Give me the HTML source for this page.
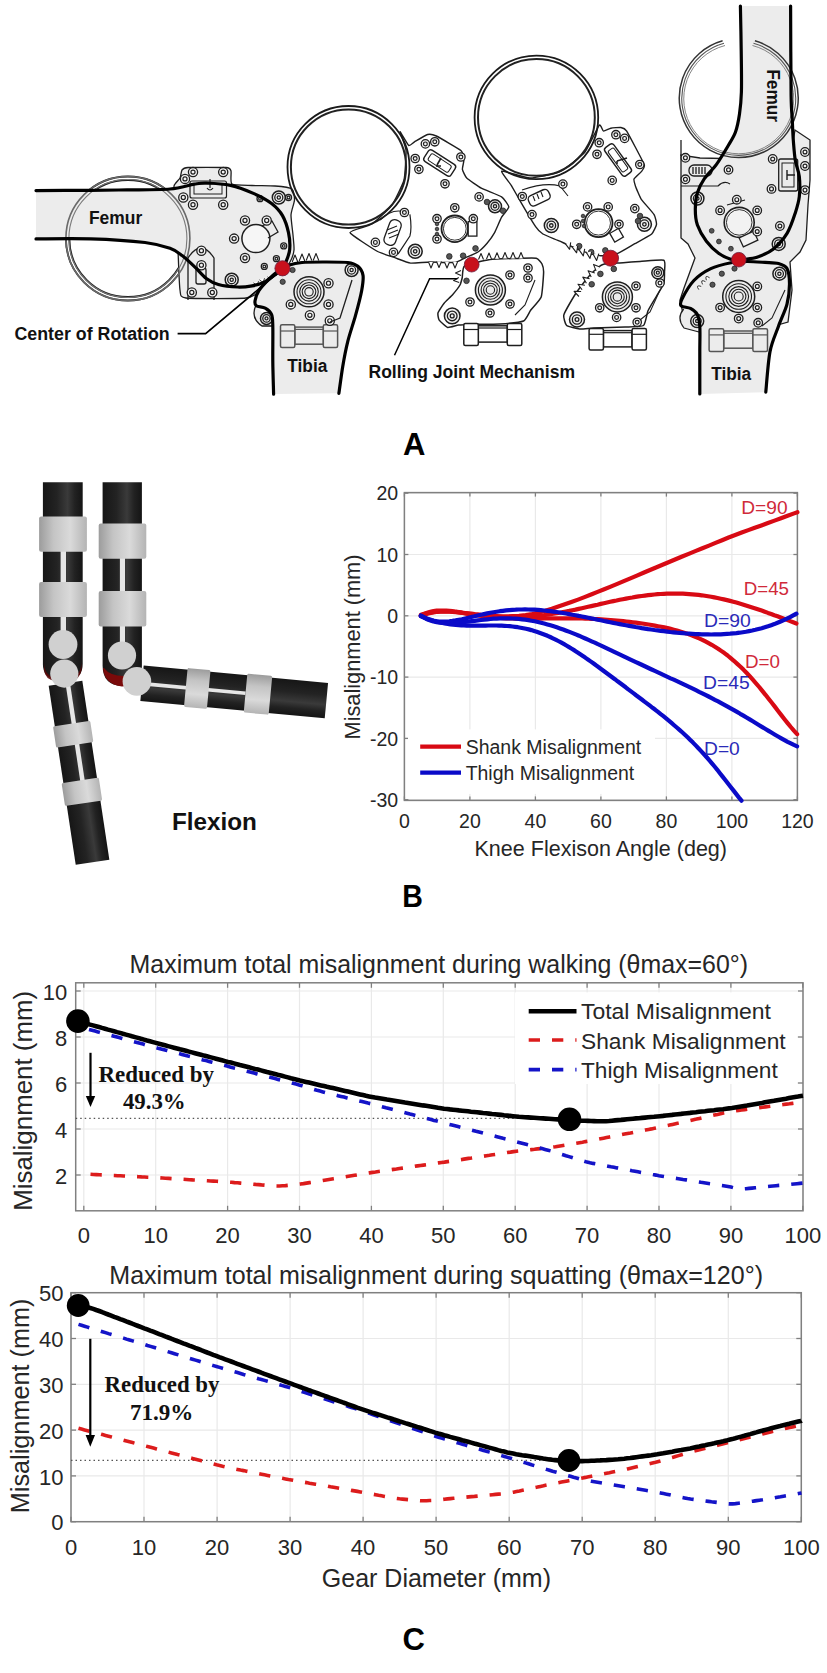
<!DOCTYPE html>
<html><head><meta charset="utf-8"><style>
html,body{margin:0;padding:0;background:#fff;overflow:hidden;}
svg{display:block;}
</style></head><body>
<svg width="827" height="1673" viewBox="0 0 827 1673">
<defs>
<linearGradient id="cyl" x1="0" x2="1" y1="0" y2="0">
<stop offset="0" stop-color="#161616"/><stop offset="0.35" stop-color="#232323"/><stop offset="0.62" stop-color="#3a3a3a"/><stop offset="0.8" stop-color="#222"/><stop offset="1" stop-color="#141414"/></linearGradient>
<linearGradient id="cylv" x1="0" x2="0" y1="0" y2="1">
<stop offset="0" stop-color="#161616"/><stop offset="0.35" stop-color="#232323"/><stop offset="0.62" stop-color="#3a3a3a"/><stop offset="0.8" stop-color="#222"/><stop offset="1" stop-color="#141414"/></linearGradient>
<linearGradient id="band" x1="0" x2="1" y1="0" y2="0">
<stop offset="0" stop-color="#9c9c9c"/><stop offset="0.3" stop-color="#c4c4c4"/><stop offset="0.65" stop-color="#dadada"/><stop offset="1" stop-color="#b4b4b4"/></linearGradient>
<linearGradient id="bandv" x1="0" x2="0" y1="0" y2="1">
<stop offset="0" stop-color="#9c9c9c"/><stop offset="0.3" stop-color="#c4c4c4"/><stop offset="0.65" stop-color="#dadada"/><stop offset="1" stop-color="#b4b4b4"/></linearGradient>
<radialGradient id="red" cx="0.5" cy="0.5" r="0.5"><stop offset="0" stop-color="#8a0c0c"/><stop offset="1" stop-color="#4a0606"/></radialGradient>
</defs>
<rect width="827" height="1673" fill="#fff"/>
<line x1="83.8" y1="982.8" x2="83.8" y2="1210.8" stroke="#e9e9e9" stroke-width="1.2"/>
<line x1="155.7" y1="982.8" x2="155.7" y2="1210.8" stroke="#e9e9e9" stroke-width="1.2"/>
<line x1="227.6" y1="982.8" x2="227.6" y2="1210.8" stroke="#e9e9e9" stroke-width="1.2"/>
<line x1="299.5" y1="982.8" x2="299.5" y2="1210.8" stroke="#e9e9e9" stroke-width="1.2"/>
<line x1="371.4" y1="982.8" x2="371.4" y2="1210.8" stroke="#e9e9e9" stroke-width="1.2"/>
<line x1="443.3" y1="982.8" x2="443.3" y2="1210.8" stroke="#e9e9e9" stroke-width="1.2"/>
<line x1="515.2" y1="982.8" x2="515.2" y2="1210.8" stroke="#e9e9e9" stroke-width="1.2"/>
<line x1="587.1" y1="982.8" x2="587.1" y2="1210.8" stroke="#e9e9e9" stroke-width="1.2"/>
<line x1="659.0" y1="982.8" x2="659.0" y2="1210.8" stroke="#e9e9e9" stroke-width="1.2"/>
<line x1="730.9" y1="982.8" x2="730.9" y2="1210.8" stroke="#e9e9e9" stroke-width="1.2"/>
<line x1="802.8" y1="982.8" x2="802.8" y2="1210.8" stroke="#e9e9e9" stroke-width="1.2"/>
<line x1="75.7" y1="1175" x2="803" y2="1175" stroke="#e9e9e9" stroke-width="1.2"/>
<line x1="75.7" y1="1129" x2="803" y2="1129" stroke="#e9e9e9" stroke-width="1.2"/>
<line x1="75.7" y1="1083" x2="803" y2="1083" stroke="#e9e9e9" stroke-width="1.2"/>
<line x1="75.7" y1="1037" x2="803" y2="1037" stroke="#e9e9e9" stroke-width="1.2"/>
<line x1="75.7" y1="991" x2="803" y2="991" stroke="#e9e9e9" stroke-width="1.2"/>
<rect x="75.7" y="982.8" width="727.3" height="228.0" fill="none" stroke="#808080" stroke-width="1.5"/>
<line x1="83.8" y1="1210.8" x2="83.8" y2="1205.8" stroke="#808080" stroke-width="1.3"/>
<line x1="83.8" y1="982.8" x2="83.8" y2="987.8" stroke="#808080" stroke-width="1.3"/>
<line x1="155.7" y1="1210.8" x2="155.7" y2="1205.8" stroke="#808080" stroke-width="1.3"/>
<line x1="155.7" y1="982.8" x2="155.7" y2="987.8" stroke="#808080" stroke-width="1.3"/>
<line x1="227.6" y1="1210.8" x2="227.6" y2="1205.8" stroke="#808080" stroke-width="1.3"/>
<line x1="227.6" y1="982.8" x2="227.6" y2="987.8" stroke="#808080" stroke-width="1.3"/>
<line x1="299.5" y1="1210.8" x2="299.5" y2="1205.8" stroke="#808080" stroke-width="1.3"/>
<line x1="299.5" y1="982.8" x2="299.5" y2="987.8" stroke="#808080" stroke-width="1.3"/>
<line x1="371.4" y1="1210.8" x2="371.4" y2="1205.8" stroke="#808080" stroke-width="1.3"/>
<line x1="371.4" y1="982.8" x2="371.4" y2="987.8" stroke="#808080" stroke-width="1.3"/>
<line x1="443.3" y1="1210.8" x2="443.3" y2="1205.8" stroke="#808080" stroke-width="1.3"/>
<line x1="443.3" y1="982.8" x2="443.3" y2="987.8" stroke="#808080" stroke-width="1.3"/>
<line x1="515.2" y1="1210.8" x2="515.2" y2="1205.8" stroke="#808080" stroke-width="1.3"/>
<line x1="515.2" y1="982.8" x2="515.2" y2="987.8" stroke="#808080" stroke-width="1.3"/>
<line x1="587.1" y1="1210.8" x2="587.1" y2="1205.8" stroke="#808080" stroke-width="1.3"/>
<line x1="587.1" y1="982.8" x2="587.1" y2="987.8" stroke="#808080" stroke-width="1.3"/>
<line x1="659.0" y1="1210.8" x2="659.0" y2="1205.8" stroke="#808080" stroke-width="1.3"/>
<line x1="659.0" y1="982.8" x2="659.0" y2="987.8" stroke="#808080" stroke-width="1.3"/>
<line x1="730.9" y1="1210.8" x2="730.9" y2="1205.8" stroke="#808080" stroke-width="1.3"/>
<line x1="730.9" y1="982.8" x2="730.9" y2="987.8" stroke="#808080" stroke-width="1.3"/>
<line x1="802.8" y1="1210.8" x2="802.8" y2="1205.8" stroke="#808080" stroke-width="1.3"/>
<line x1="802.8" y1="982.8" x2="802.8" y2="987.8" stroke="#808080" stroke-width="1.3"/>
<line x1="75.7" y1="1175" x2="80.7" y2="1175" stroke="#808080" stroke-width="1.3"/>
<line x1="803" y1="1175" x2="798" y2="1175" stroke="#808080" stroke-width="1.3"/>
<line x1="75.7" y1="1129" x2="80.7" y2="1129" stroke="#808080" stroke-width="1.3"/>
<line x1="803" y1="1129" x2="798" y2="1129" stroke="#808080" stroke-width="1.3"/>
<line x1="75.7" y1="1083" x2="80.7" y2="1083" stroke="#808080" stroke-width="1.3"/>
<line x1="803" y1="1083" x2="798" y2="1083" stroke="#808080" stroke-width="1.3"/>
<line x1="75.7" y1="1037" x2="80.7" y2="1037" stroke="#808080" stroke-width="1.3"/>
<line x1="803" y1="1037" x2="798" y2="1037" stroke="#808080" stroke-width="1.3"/>
<line x1="75.7" y1="991" x2="80.7" y2="991" stroke="#808080" stroke-width="1.3"/>
<line x1="803" y1="991" x2="798" y2="991" stroke="#808080" stroke-width="1.3"/>
<text x="83.8" y="1242.9" font-size="22" text-anchor="middle" fill="#262626" font-weight="normal" font-family="'Liberation Sans', sans-serif" >0</text>
<text x="155.7" y="1242.9" font-size="22" text-anchor="middle" fill="#262626" font-weight="normal" font-family="'Liberation Sans', sans-serif" >10</text>
<text x="227.6" y="1242.9" font-size="22" text-anchor="middle" fill="#262626" font-weight="normal" font-family="'Liberation Sans', sans-serif" >20</text>
<text x="299.5" y="1242.9" font-size="22" text-anchor="middle" fill="#262626" font-weight="normal" font-family="'Liberation Sans', sans-serif" >30</text>
<text x="371.4" y="1242.9" font-size="22" text-anchor="middle" fill="#262626" font-weight="normal" font-family="'Liberation Sans', sans-serif" >40</text>
<text x="443.3" y="1242.9" font-size="22" text-anchor="middle" fill="#262626" font-weight="normal" font-family="'Liberation Sans', sans-serif" >50</text>
<text x="515.2" y="1242.9" font-size="22" text-anchor="middle" fill="#262626" font-weight="normal" font-family="'Liberation Sans', sans-serif" >60</text>
<text x="587.1" y="1242.9" font-size="22" text-anchor="middle" fill="#262626" font-weight="normal" font-family="'Liberation Sans', sans-serif" >70</text>
<text x="659.0" y="1242.9" font-size="22" text-anchor="middle" fill="#262626" font-weight="normal" font-family="'Liberation Sans', sans-serif" >80</text>
<text x="730.9" y="1242.9" font-size="22" text-anchor="middle" fill="#262626" font-weight="normal" font-family="'Liberation Sans', sans-serif" >90</text>
<text x="802.8" y="1242.9" font-size="22" text-anchor="middle" fill="#262626" font-weight="normal" font-family="'Liberation Sans', sans-serif" >100</text>
<text x="67.3" y="1183.8" font-size="22" text-anchor="end" fill="#262626" font-weight="normal" font-family="'Liberation Sans', sans-serif" >2</text>
<text x="67.3" y="1137.8" font-size="22" text-anchor="end" fill="#262626" font-weight="normal" font-family="'Liberation Sans', sans-serif" >4</text>
<text x="67.3" y="1091.8" font-size="22" text-anchor="end" fill="#262626" font-weight="normal" font-family="'Liberation Sans', sans-serif" >6</text>
<text x="67.3" y="1045.8" font-size="22" text-anchor="end" fill="#262626" font-weight="normal" font-family="'Liberation Sans', sans-serif" >8</text>
<text x="67.3" y="999.8" font-size="22" text-anchor="end" fill="#262626" font-weight="normal" font-family="'Liberation Sans', sans-serif" >10</text>
<text x="0" y="0" font-size="25.5" text-anchor="middle" fill="#262626" font-weight="normal" font-family="'Liberation Sans', sans-serif" textLength="220" lengthAdjust="spacingAndGlyphs" transform="translate(32,1100.8) rotate(-90)">Misalignment (mm)</text>
<text x="129.6" y="973.3" font-size="25" text-anchor="start" fill="#262626" font-weight="normal" font-family="'Liberation Sans', sans-serif" textLength="618.4" lengthAdjust="spacingAndGlyphs" >Maximum total misalignment during walking (θmax=60°)</text>
<line x1="75.7" y1="1118.3" x2="570" y2="1118.3" stroke="#555" stroke-width="1.2" stroke-dasharray="1.5,3"/>
<path d="M90.5,1174.3 L93.5,1174.5 L96.5,1174.6 L99.5,1174.8 L102.5,1174.9 L105.5,1175.1 L108.5,1175.2 L111.5,1175.4 L114.5,1175.5 L117.5,1175.7 L120.5,1175.8 L123.5,1176.0 L126.5,1176.1 L129.5,1176.3 L132.5,1176.4 L135.5,1176.6 L138.5,1176.7 L141.5,1176.9 L144.5,1177.0 L147.5,1177.2 L150.5,1177.3 L153.5,1177.5 L156.5,1177.7 L159.5,1177.8 L162.5,1178.0 L165.5,1178.2 L168.5,1178.4 L171.5,1178.6 L174.5,1178.8 L177.5,1178.9 L180.5,1179.1 L183.5,1179.3 L186.5,1179.5 L189.5,1179.7 L192.5,1179.9 L195.5,1180.0 L198.5,1180.2 L201.5,1180.4 L204.5,1180.6 L207.5,1180.8 L210.5,1181.0 L213.5,1181.1 L216.5,1181.3 L219.5,1181.5 L222.5,1181.7 L225.5,1181.9 L228.5,1182.1 L231.5,1182.3 L234.5,1182.6 L237.5,1182.8 L240.5,1183.1 L243.5,1183.4 L246.5,1183.6 L249.5,1183.9 L252.5,1184.1 L255.5,1184.4 L258.5,1184.6 L261.5,1184.9 L264.5,1185.1 L267.5,1185.4 L270.5,1185.7 L273.5,1185.9 L276.5,1186.0 L279.5,1186.0 L282.5,1185.8 L285.5,1185.6 L288.5,1185.3 L291.5,1185.0 L294.5,1184.7 L297.5,1184.4 L300.5,1184.0 L303.5,1183.6 L306.5,1183.1 L309.5,1182.6 L312.5,1182.2 L315.5,1181.7 L318.5,1181.2 L321.5,1180.7 L324.5,1180.2 L327.5,1179.7 L330.5,1179.2 L333.5,1178.7 L336.5,1178.2 L339.5,1177.8 L342.5,1177.3 L345.5,1176.8 L348.5,1176.3 L351.5,1175.8 L354.5,1175.3 L357.5,1174.8 L360.5,1174.3 L363.5,1173.8 L366.5,1173.4 L369.5,1172.9 L372.5,1172.4 L375.5,1172.0 L378.5,1171.5 L381.5,1171.1 L384.5,1170.7 L387.5,1170.2 L390.5,1169.8 L393.5,1169.4 L396.5,1169.0 L399.5,1168.5 L402.5,1168.1 L405.5,1167.7 L408.5,1167.2 L411.5,1166.8 L414.5,1166.4 L417.5,1165.9 L420.5,1165.5 L423.5,1165.1 L426.5,1164.7 L429.5,1164.2 L432.5,1163.8 L435.5,1163.4 L438.5,1162.9 L441.5,1162.5 L444.5,1162.1 L447.5,1161.6 L450.5,1161.2 L453.5,1160.7 L456.5,1160.3 L459.5,1159.8 L462.5,1159.4 L465.5,1158.9 L468.5,1158.4 L471.5,1158.0 L474.5,1157.5 L477.5,1157.1 L480.5,1156.6 L483.5,1156.2 L486.5,1155.7 L489.5,1155.3 L492.5,1154.8 L495.5,1154.4 L498.5,1153.9 L501.5,1153.4 L504.5,1153.0 L507.5,1152.5 L510.5,1152.1 L513.5,1151.6 L516.5,1151.2 L519.5,1150.9 L522.5,1150.5 L525.5,1150.2 L528.5,1149.9 L531.5,1149.6 L534.5,1149.3 L537.5,1148.9 L540.5,1148.6 L543.5,1148.3 L546.5,1147.9 L549.5,1147.6 L552.5,1147.1 L555.5,1146.7 L558.5,1146.2 L561.5,1145.7 L564.5,1145.2 L567.5,1144.7 L570.5,1144.2 L573.5,1143.7 L576.5,1143.2 L579.5,1142.7 L582.5,1142.2 L585.5,1141.6 L588.5,1141.1 L591.5,1140.5 L594.5,1140.0 L597.5,1139.4 L600.5,1138.8 L603.5,1138.2 L606.5,1137.6 L609.5,1137.0 L612.5,1136.5 L615.5,1135.9 L618.5,1135.3 L621.5,1134.7 L624.5,1134.1 L627.5,1133.5 L630.5,1133.0 L633.5,1132.4 L636.5,1131.8 L639.5,1131.2 L642.5,1130.6 L645.5,1130.0 L648.5,1129.4 L651.5,1128.9 L654.5,1128.3 L657.5,1127.7 L660.5,1127.1 L663.5,1126.4 L666.5,1125.7 L669.5,1125.1 L672.5,1124.4 L675.5,1123.7 L678.5,1123.1 L681.5,1122.4 L684.5,1121.7 L687.5,1121.1 L690.5,1120.4 L693.5,1119.7 L696.5,1119.1 L699.5,1118.4 L702.5,1117.7 L705.5,1117.0 L708.5,1116.4 L711.5,1115.7 L714.5,1115.0 L717.5,1114.4 L720.5,1113.7 L723.5,1113.0 L726.5,1112.4 L729.5,1111.8 L732.5,1111.3 L735.5,1110.8 L738.5,1110.4 L741.5,1110.0 L744.5,1109.6 L747.5,1109.2 L750.5,1108.8 L753.5,1108.4 L756.5,1108.1 L759.5,1107.7 L762.5,1107.3 L765.5,1106.9 L768.5,1106.5 L771.5,1106.1 L774.5,1105.7 L777.5,1105.3 L780.5,1104.9 L783.5,1104.5 L786.5,1104.1 L789.5,1103.8 L792.5,1103.4 L795.5,1103.0 L798.5,1102.6 L801.5,1102.2 L803.0,1102.0" fill="none" stroke="#dc1c1c" stroke-width="3.6" stroke-dasharray="11.3,12"/>
<path d="M89.0,1029.5 L92.0,1030.3 L95.0,1031.1 L98.0,1031.9 L101.0,1032.8 L104.0,1033.6 L107.0,1034.4 L110.0,1035.2 L113.0,1036.0 L116.0,1036.8 L119.0,1037.6 L122.0,1038.4 L125.0,1039.3 L128.0,1040.1 L131.0,1040.9 L134.0,1041.7 L137.0,1042.5 L140.0,1043.3 L143.0,1044.1 L146.0,1045.0 L149.0,1045.8 L152.0,1046.6 L155.0,1047.4 L158.0,1048.2 L161.0,1048.9 L164.0,1049.7 L167.0,1050.5 L170.0,1051.3 L173.0,1052.1 L176.0,1052.8 L179.0,1053.6 L182.0,1054.4 L185.0,1055.2 L188.0,1056.0 L191.0,1056.7 L194.0,1057.5 L197.0,1058.3 L200.0,1059.1 L203.0,1059.9 L206.0,1060.6 L209.0,1061.4 L212.0,1062.2 L215.0,1063.0 L218.0,1063.8 L221.0,1064.5 L224.0,1065.3 L227.0,1066.1 L230.0,1066.9 L233.0,1067.7 L236.0,1068.4 L239.0,1069.2 L242.0,1070.0 L245.0,1070.8 L248.0,1071.6 L251.0,1072.3 L254.0,1073.1 L257.0,1073.9 L260.0,1074.7 L263.0,1075.5 L266.0,1076.3 L269.0,1077.0 L272.0,1077.8 L275.0,1078.6 L278.0,1079.4 L281.0,1080.2 L284.0,1080.9 L287.0,1081.7 L290.0,1082.5 L293.0,1083.3 L296.0,1084.1 L299.0,1084.9 L302.0,1085.7 L305.0,1086.6 L308.0,1087.5 L311.0,1088.5 L314.0,1089.4 L317.0,1090.3 L320.0,1091.1 L323.0,1091.9 L326.0,1092.7 L329.0,1093.4 L332.0,1094.2 L335.0,1094.9 L338.0,1095.7 L341.0,1096.4 L344.0,1097.1 L347.0,1097.9 L350.0,1098.6 L353.0,1099.4 L356.0,1100.1 L359.0,1100.9 L362.0,1101.6 L365.0,1102.3 L368.0,1103.1 L371.0,1103.8 L374.0,1104.6 L377.0,1105.4 L380.0,1106.2 L383.0,1107.0 L386.0,1107.8 L389.0,1108.5 L392.0,1109.3 L395.0,1110.1 L398.0,1110.9 L401.0,1111.7 L404.0,1112.5 L407.0,1113.3 L410.0,1114.1 L413.0,1114.8 L416.0,1115.6 L419.0,1116.4 L422.0,1117.2 L425.0,1118.0 L428.0,1118.8 L431.0,1119.6 L434.0,1120.4 L437.0,1121.1 L440.0,1121.9 L443.0,1122.7 L446.0,1123.5 L449.0,1124.3 L452.0,1125.0 L455.0,1125.8 L458.0,1126.6 L461.0,1127.4 L464.0,1128.2 L467.0,1128.9 L470.0,1129.7 L473.0,1130.5 L476.0,1131.3 L479.0,1132.0 L482.0,1132.8 L485.0,1133.6 L488.0,1134.4 L491.0,1135.1 L494.0,1135.9 L497.0,1136.7 L500.0,1137.5 L503.0,1138.3 L506.0,1139.0 L509.0,1139.8 L512.0,1140.6 L515.0,1141.4 L518.0,1142.2 L521.0,1143.0 L524.0,1143.8 L527.0,1144.6 L530.0,1145.4 L533.0,1146.2 L536.0,1147.0 L539.0,1147.8 L542.0,1148.6 L545.0,1149.4 L548.0,1150.2 L551.0,1151.0 L554.0,1151.9 L557.0,1152.9 L560.0,1153.8 L563.0,1154.7 L566.0,1155.7 L569.0,1156.6 L572.0,1157.5 L575.0,1158.5 L578.0,1159.4 L581.0,1160.3 L584.0,1161.2 L587.0,1162.1 L590.0,1162.8 L593.0,1163.4 L596.0,1163.9 L599.0,1164.5 L602.0,1165.1 L605.0,1165.6 L608.0,1166.2 L611.0,1166.8 L614.0,1167.3 L617.0,1167.9 L620.0,1168.4 L623.0,1169.0 L626.0,1169.6 L629.0,1170.1 L632.0,1170.7 L635.0,1171.2 L638.0,1171.8 L641.0,1172.4 L644.0,1172.9 L647.0,1173.5 L650.0,1174.0 L653.0,1174.6 L656.0,1175.1 L659.0,1175.7 L662.0,1176.2 L665.0,1176.7 L668.0,1177.1 L671.0,1177.6 L674.0,1178.1 L677.0,1178.5 L680.0,1179.0 L683.0,1179.5 L686.0,1179.9 L689.0,1180.4 L692.0,1180.9 L695.0,1181.3 L698.0,1181.8 L701.0,1182.3 L704.0,1182.7 L707.0,1183.2 L710.0,1183.7 L713.0,1184.1 L716.0,1184.6 L719.0,1185.1 L722.0,1185.5 L725.0,1186.0 L728.0,1186.5 L731.0,1187.1 L734.0,1187.9 L737.0,1188.7 L740.0,1189.0 L743.0,1188.9 L746.0,1188.7 L749.0,1188.4 L752.0,1188.1 L755.0,1187.8 L758.0,1187.5 L761.0,1187.2 L764.0,1186.9 L767.0,1186.6 L770.0,1186.3 L773.0,1186.0 L776.0,1185.7 L779.0,1185.4 L782.0,1185.2 L785.0,1184.9 L788.0,1184.6 L791.0,1184.3 L794.0,1184.0 L797.0,1183.7 L800.0,1183.4 L803.0,1183.1" fill="none" stroke="#1414c8" stroke-width="3.6" stroke-dasharray="11.3,12"/>
<path d="M78.0,1021.5 L81.0,1022.3 L84.0,1023.0 L87.0,1023.8 L90.0,1024.6 L93.0,1025.4 L96.0,1026.2 L99.0,1027.0 L102.0,1027.9 L105.0,1028.7 L108.0,1029.6 L111.0,1030.4 L114.0,1031.2 L117.0,1032.1 L120.0,1032.9 L123.0,1033.8 L126.0,1034.6 L129.0,1035.4 L132.0,1036.3 L135.0,1037.1 L138.0,1037.9 L141.0,1038.8 L144.0,1039.6 L147.0,1040.5 L150.0,1041.3 L153.0,1042.1 L156.0,1042.9 L159.0,1043.7 L162.0,1044.5 L165.0,1045.3 L168.0,1046.1 L171.0,1046.9 L174.0,1047.7 L177.0,1048.5 L180.0,1049.3 L183.0,1050.0 L186.0,1050.8 L189.0,1051.6 L192.0,1052.4 L195.0,1053.2 L198.0,1054.0 L201.0,1054.8 L204.0,1055.6 L207.0,1056.3 L210.0,1057.1 L213.0,1057.9 L216.0,1058.7 L219.0,1059.5 L222.0,1060.3 L225.0,1061.1 L228.0,1061.9 L231.0,1062.6 L234.0,1063.4 L237.0,1064.2 L240.0,1065.0 L243.0,1065.7 L246.0,1066.5 L249.0,1067.3 L252.0,1068.1 L255.0,1068.9 L258.0,1069.6 L261.0,1070.4 L264.0,1071.2 L267.0,1072.0 L270.0,1072.7 L273.0,1073.5 L276.0,1074.3 L279.0,1075.1 L282.0,1075.8 L285.0,1076.6 L288.0,1077.4 L291.0,1078.2 L294.0,1078.9 L297.0,1079.7 L300.0,1080.5 L303.0,1081.2 L306.0,1081.9 L309.0,1082.6 L312.0,1083.3 L315.0,1084.0 L318.0,1084.7 L321.0,1085.4 L324.0,1086.1 L327.0,1086.8 L330.0,1087.4 L333.0,1088.1 L336.0,1088.8 L339.0,1089.5 L342.0,1090.2 L345.0,1090.9 L348.0,1091.6 L351.0,1092.3 L354.0,1093.0 L357.0,1093.7 L360.0,1094.4 L363.0,1095.1 L366.0,1095.8 L369.0,1096.4 L372.0,1097.0 L375.0,1097.6 L378.0,1098.1 L381.0,1098.6 L384.0,1099.1 L387.0,1099.6 L390.0,1100.0 L393.0,1100.5 L396.0,1101.0 L399.0,1101.5 L402.0,1102.0 L405.0,1102.5 L408.0,1102.9 L411.0,1103.4 L414.0,1103.9 L417.0,1104.4 L420.0,1104.9 L423.0,1105.4 L426.0,1105.8 L429.0,1106.3 L432.0,1106.8 L435.0,1107.3 L438.0,1107.8 L441.0,1108.2 L444.0,1108.7 L447.0,1109.0 L450.0,1109.4 L453.0,1109.7 L456.0,1110.0 L459.0,1110.4 L462.0,1110.7 L465.0,1111.0 L468.0,1111.3 L471.0,1111.7 L474.0,1112.0 L477.0,1112.3 L480.0,1112.6 L483.0,1113.0 L486.0,1113.3 L489.0,1113.6 L492.0,1114.0 L495.0,1114.3 L498.0,1114.6 L501.0,1114.9 L504.0,1115.3 L507.0,1115.6 L510.0,1115.9 L513.0,1116.2 L516.0,1116.5 L519.0,1116.8 L522.0,1117.0 L525.0,1117.2 L528.0,1117.4 L531.0,1117.6 L534.0,1117.8 L537.0,1118.0 L540.0,1118.2 L543.0,1118.4 L546.0,1118.6 L549.0,1118.8 L552.0,1119.0 L555.0,1119.2 L558.0,1119.4 L561.0,1119.6 L564.0,1119.8 L567.0,1120.0 L570.0,1120.2 L573.0,1120.3 L576.0,1120.4 L579.0,1120.6 L582.0,1120.7 L585.0,1120.8 L588.0,1120.9 L591.0,1121.0 L594.0,1121.1 L597.0,1121.2 L600.0,1121.3 L603.0,1121.3 L606.0,1121.2 L609.0,1121.0 L612.0,1120.7 L615.0,1120.4 L618.0,1120.1 L621.0,1119.9 L624.0,1119.6 L627.0,1119.3 L630.0,1119.0 L633.0,1118.7 L636.0,1118.4 L639.0,1118.2 L642.0,1117.9 L645.0,1117.6 L648.0,1117.3 L651.0,1117.0 L654.0,1116.8 L657.0,1116.5 L660.0,1116.2 L663.0,1115.9 L666.0,1115.5 L669.0,1115.2 L672.0,1114.9 L675.0,1114.5 L678.0,1114.2 L681.0,1113.9 L684.0,1113.5 L687.0,1113.2 L690.0,1112.9 L693.0,1112.5 L696.0,1112.2 L699.0,1111.8 L702.0,1111.5 L705.0,1111.2 L708.0,1110.8 L711.0,1110.5 L714.0,1110.2 L717.0,1109.8 L720.0,1109.5 L723.0,1109.2 L726.0,1108.8 L729.0,1108.4 L732.0,1108.0 L735.0,1107.5 L738.0,1107.0 L741.0,1106.5 L744.0,1106.0 L747.0,1105.5 L750.0,1104.9 L753.0,1104.4 L756.0,1103.9 L759.0,1103.4 L762.0,1102.9 L765.0,1102.3 L768.0,1101.8 L771.0,1101.3 L774.0,1100.8 L777.0,1100.2 L780.0,1099.7 L783.0,1099.2 L786.0,1098.7 L789.0,1098.1 L792.0,1097.6 L795.0,1097.1 L798.0,1096.6 L801.0,1096.0 L803.0,1095.7" fill="none" stroke="#000" stroke-width="4.6"/>
<circle cx="77.9" cy="1021.1" r="11.8" fill="#000"/>
<circle cx="569.5" cy="1119.3" r="11.8" fill="#000"/>
<line x1="90.5" y1="1052.8" x2="90.5" y2="1097" stroke="#000" stroke-width="2.2"/>
<path d="M85.8,1096 L95.2,1096 L90.5,1107 Z" fill="#000"/>
<text x="98.4" y="1082.4" font-size="22.8" text-anchor="start" fill="#111" font-weight="bold" font-family="'Liberation Serif', serif" textLength="115.6" lengthAdjust="spacingAndGlyphs" >Reduced by</text>
<text x="122.9" y="1109.4" font-size="22.8" text-anchor="start" fill="#111" font-weight="bold" font-family="'Liberation Serif', serif" textLength="62.8" lengthAdjust="spacingAndGlyphs" >49.3%</text>
<rect x="515" y="992.4" width="282" height="91.6" fill="#fff"/>
<line x1="528.7" y1="1011.2" x2="576.5" y2="1011.2" stroke="#000" stroke-width="4.6"/>
<line x1="528.7" y1="1040" x2="576.5" y2="1040" stroke="#dc1c1c" stroke-width="3.6" stroke-dasharray="11.3,12"/>
<line x1="528.7" y1="1069.6" x2="576.5" y2="1069.6" stroke="#1414c8" stroke-width="3.6" stroke-dasharray="11.3,12"/>
<text x="581" y="1019" font-size="22.8" text-anchor="start" fill="#262626" font-weight="normal" font-family="'Liberation Sans', sans-serif" textLength="190" lengthAdjust="spacingAndGlyphs" >Total Misalignment</text>
<text x="581" y="1049" font-size="22.8" text-anchor="start" fill="#262626" font-weight="normal" font-family="'Liberation Sans', sans-serif" textLength="204.6" lengthAdjust="spacingAndGlyphs" >Shank Misalignment</text>
<text x="581" y="1078" font-size="22.8" text-anchor="start" fill="#262626" font-weight="normal" font-family="'Liberation Sans', sans-serif" textLength="196.8" lengthAdjust="spacingAndGlyphs" >Thigh Misalignment</text>
<line x1="71.0" y1="1292.7" x2="71.0" y2="1521.7" stroke="#e9e9e9" stroke-width="1.2"/>
<line x1="144.0" y1="1292.7" x2="144.0" y2="1521.7" stroke="#e9e9e9" stroke-width="1.2"/>
<line x1="217.1" y1="1292.7" x2="217.1" y2="1521.7" stroke="#e9e9e9" stroke-width="1.2"/>
<line x1="290.1" y1="1292.7" x2="290.1" y2="1521.7" stroke="#e9e9e9" stroke-width="1.2"/>
<line x1="363.1" y1="1292.7" x2="363.1" y2="1521.7" stroke="#e9e9e9" stroke-width="1.2"/>
<line x1="436.1" y1="1292.7" x2="436.1" y2="1521.7" stroke="#e9e9e9" stroke-width="1.2"/>
<line x1="509.2" y1="1292.7" x2="509.2" y2="1521.7" stroke="#e9e9e9" stroke-width="1.2"/>
<line x1="582.2" y1="1292.7" x2="582.2" y2="1521.7" stroke="#e9e9e9" stroke-width="1.2"/>
<line x1="655.2" y1="1292.7" x2="655.2" y2="1521.7" stroke="#e9e9e9" stroke-width="1.2"/>
<line x1="728.3" y1="1292.7" x2="728.3" y2="1521.7" stroke="#e9e9e9" stroke-width="1.2"/>
<line x1="801.3" y1="1292.7" x2="801.3" y2="1521.7" stroke="#e9e9e9" stroke-width="1.2"/>
<line x1="71" y1="1521.7" x2="801.3" y2="1521.7" stroke="#e9e9e9" stroke-width="1.2"/>
<line x1="71" y1="1475.9" x2="801.3" y2="1475.9" stroke="#e9e9e9" stroke-width="1.2"/>
<line x1="71" y1="1430.1" x2="801.3" y2="1430.1" stroke="#e9e9e9" stroke-width="1.2"/>
<line x1="71" y1="1384.3" x2="801.3" y2="1384.3" stroke="#e9e9e9" stroke-width="1.2"/>
<line x1="71" y1="1338.5" x2="801.3" y2="1338.5" stroke="#e9e9e9" stroke-width="1.2"/>
<line x1="71" y1="1292.7" x2="801.3" y2="1292.7" stroke="#e9e9e9" stroke-width="1.2"/>
<rect x="71" y="1292.7" width="730.3" height="229.0" fill="none" stroke="#808080" stroke-width="1.5"/>
<line x1="71.0" y1="1521.7" x2="71.0" y2="1516.7" stroke="#808080" stroke-width="1.3"/>
<line x1="71.0" y1="1292.7" x2="71.0" y2="1297.7" stroke="#808080" stroke-width="1.3"/>
<line x1="144.0" y1="1521.7" x2="144.0" y2="1516.7" stroke="#808080" stroke-width="1.3"/>
<line x1="144.0" y1="1292.7" x2="144.0" y2="1297.7" stroke="#808080" stroke-width="1.3"/>
<line x1="217.1" y1="1521.7" x2="217.1" y2="1516.7" stroke="#808080" stroke-width="1.3"/>
<line x1="217.1" y1="1292.7" x2="217.1" y2="1297.7" stroke="#808080" stroke-width="1.3"/>
<line x1="290.1" y1="1521.7" x2="290.1" y2="1516.7" stroke="#808080" stroke-width="1.3"/>
<line x1="290.1" y1="1292.7" x2="290.1" y2="1297.7" stroke="#808080" stroke-width="1.3"/>
<line x1="363.1" y1="1521.7" x2="363.1" y2="1516.7" stroke="#808080" stroke-width="1.3"/>
<line x1="363.1" y1="1292.7" x2="363.1" y2="1297.7" stroke="#808080" stroke-width="1.3"/>
<line x1="436.1" y1="1521.7" x2="436.1" y2="1516.7" stroke="#808080" stroke-width="1.3"/>
<line x1="436.1" y1="1292.7" x2="436.1" y2="1297.7" stroke="#808080" stroke-width="1.3"/>
<line x1="509.2" y1="1521.7" x2="509.2" y2="1516.7" stroke="#808080" stroke-width="1.3"/>
<line x1="509.2" y1="1292.7" x2="509.2" y2="1297.7" stroke="#808080" stroke-width="1.3"/>
<line x1="582.2" y1="1521.7" x2="582.2" y2="1516.7" stroke="#808080" stroke-width="1.3"/>
<line x1="582.2" y1="1292.7" x2="582.2" y2="1297.7" stroke="#808080" stroke-width="1.3"/>
<line x1="655.2" y1="1521.7" x2="655.2" y2="1516.7" stroke="#808080" stroke-width="1.3"/>
<line x1="655.2" y1="1292.7" x2="655.2" y2="1297.7" stroke="#808080" stroke-width="1.3"/>
<line x1="728.3" y1="1521.7" x2="728.3" y2="1516.7" stroke="#808080" stroke-width="1.3"/>
<line x1="728.3" y1="1292.7" x2="728.3" y2="1297.7" stroke="#808080" stroke-width="1.3"/>
<line x1="801.3" y1="1521.7" x2="801.3" y2="1516.7" stroke="#808080" stroke-width="1.3"/>
<line x1="801.3" y1="1292.7" x2="801.3" y2="1297.7" stroke="#808080" stroke-width="1.3"/>
<line x1="71" y1="1521.7" x2="76" y2="1521.7" stroke="#808080" stroke-width="1.3"/>
<line x1="801.3" y1="1521.7" x2="796.3" y2="1521.7" stroke="#808080" stroke-width="1.3"/>
<line x1="71" y1="1475.9" x2="76" y2="1475.9" stroke="#808080" stroke-width="1.3"/>
<line x1="801.3" y1="1475.9" x2="796.3" y2="1475.9" stroke="#808080" stroke-width="1.3"/>
<line x1="71" y1="1430.1" x2="76" y2="1430.1" stroke="#808080" stroke-width="1.3"/>
<line x1="801.3" y1="1430.1" x2="796.3" y2="1430.1" stroke="#808080" stroke-width="1.3"/>
<line x1="71" y1="1384.3" x2="76" y2="1384.3" stroke="#808080" stroke-width="1.3"/>
<line x1="801.3" y1="1384.3" x2="796.3" y2="1384.3" stroke="#808080" stroke-width="1.3"/>
<line x1="71" y1="1338.5" x2="76" y2="1338.5" stroke="#808080" stroke-width="1.3"/>
<line x1="801.3" y1="1338.5" x2="796.3" y2="1338.5" stroke="#808080" stroke-width="1.3"/>
<line x1="71" y1="1292.7" x2="76" y2="1292.7" stroke="#808080" stroke-width="1.3"/>
<line x1="801.3" y1="1292.7" x2="796.3" y2="1292.7" stroke="#808080" stroke-width="1.3"/>
<text x="71.0" y="1554.5" font-size="22" text-anchor="middle" fill="#262626" font-weight="normal" font-family="'Liberation Sans', sans-serif" >0</text>
<text x="144.0" y="1554.5" font-size="22" text-anchor="middle" fill="#262626" font-weight="normal" font-family="'Liberation Sans', sans-serif" >10</text>
<text x="217.1" y="1554.5" font-size="22" text-anchor="middle" fill="#262626" font-weight="normal" font-family="'Liberation Sans', sans-serif" >20</text>
<text x="290.1" y="1554.5" font-size="22" text-anchor="middle" fill="#262626" font-weight="normal" font-family="'Liberation Sans', sans-serif" >30</text>
<text x="363.1" y="1554.5" font-size="22" text-anchor="middle" fill="#262626" font-weight="normal" font-family="'Liberation Sans', sans-serif" >40</text>
<text x="436.1" y="1554.5" font-size="22" text-anchor="middle" fill="#262626" font-weight="normal" font-family="'Liberation Sans', sans-serif" >50</text>
<text x="509.2" y="1554.5" font-size="22" text-anchor="middle" fill="#262626" font-weight="normal" font-family="'Liberation Sans', sans-serif" >60</text>
<text x="582.2" y="1554.5" font-size="22" text-anchor="middle" fill="#262626" font-weight="normal" font-family="'Liberation Sans', sans-serif" >70</text>
<text x="655.2" y="1554.5" font-size="22" text-anchor="middle" fill="#262626" font-weight="normal" font-family="'Liberation Sans', sans-serif" >80</text>
<text x="728.3" y="1554.5" font-size="22" text-anchor="middle" fill="#262626" font-weight="normal" font-family="'Liberation Sans', sans-serif" >90</text>
<text x="801.3" y="1554.5" font-size="22" text-anchor="middle" fill="#262626" font-weight="normal" font-family="'Liberation Sans', sans-serif" >100</text>
<text x="63.6" y="1530.4" font-size="22" text-anchor="end" fill="#262626" font-weight="normal" font-family="'Liberation Sans', sans-serif" >0</text>
<text x="63.6" y="1484.6000000000001" font-size="22" text-anchor="end" fill="#262626" font-weight="normal" font-family="'Liberation Sans', sans-serif" >10</text>
<text x="63.6" y="1438.8" font-size="22" text-anchor="end" fill="#262626" font-weight="normal" font-family="'Liberation Sans', sans-serif" >20</text>
<text x="63.6" y="1393.0" font-size="22" text-anchor="end" fill="#262626" font-weight="normal" font-family="'Liberation Sans', sans-serif" >30</text>
<text x="63.6" y="1347.2" font-size="22" text-anchor="end" fill="#262626" font-weight="normal" font-family="'Liberation Sans', sans-serif" >40</text>
<text x="63.6" y="1301.4" font-size="22" text-anchor="end" fill="#262626" font-weight="normal" font-family="'Liberation Sans', sans-serif" >50</text>
<text x="0" y="0" font-size="25.3" text-anchor="middle" fill="#262626" font-weight="normal" font-family="'Liberation Sans', sans-serif" textLength="214.5" lengthAdjust="spacingAndGlyphs" transform="translate(28.6,1405.9) rotate(-90)">Misalignment (mm)</text>
<text x="109.3" y="1283.9" font-size="25" text-anchor="start" fill="#262626" font-weight="normal" font-family="'Liberation Sans', sans-serif" textLength="653.7" lengthAdjust="spacingAndGlyphs" >Maximum total misalignment during squatting (θmax=120°)</text>
<text x="321.8" y="1587.3" font-size="25" text-anchor="start" fill="#262626" font-weight="normal" font-family="'Liberation Sans', sans-serif" textLength="229.2" lengthAdjust="spacingAndGlyphs" >Gear Diameter (mm)</text>
<line x1="71" y1="1460.3" x2="560" y2="1460.3" stroke="#555" stroke-width="1.2" stroke-dasharray="1.5,3"/>
<path d="M78.5,1428.3 L81.5,1429.1 L84.5,1429.9 L87.5,1430.7 L90.5,1431.5 L93.5,1432.3 L96.5,1433.1 L99.5,1433.8 L102.5,1434.6 L105.5,1435.4 L108.5,1436.2 L111.5,1437.0 L114.5,1437.8 L117.5,1438.6 L120.5,1439.4 L123.5,1440.2 L126.5,1441.0 L129.5,1441.8 L132.5,1442.6 L135.5,1443.4 L138.5,1444.1 L141.5,1444.9 L144.5,1445.7 L147.5,1446.5 L150.5,1447.3 L153.5,1448.1 L156.5,1448.9 L159.5,1449.7 L162.5,1450.5 L165.5,1451.3 L168.5,1452.1 L171.5,1452.9 L174.5,1453.7 L177.5,1454.5 L180.5,1455.2 L183.5,1456.0 L186.5,1456.8 L189.5,1457.6 L192.5,1458.4 L195.5,1459.2 L198.5,1460.0 L201.5,1460.8 L204.5,1461.6 L207.5,1462.4 L210.5,1463.2 L213.5,1464.0 L216.5,1464.8 L219.5,1465.5 L222.5,1466.3 L225.5,1467.0 L228.5,1467.7 L231.5,1468.3 L234.5,1468.9 L237.5,1469.5 L240.5,1470.1 L243.5,1470.6 L246.5,1471.2 L249.5,1471.8 L252.5,1472.4 L255.5,1473.0 L258.5,1473.6 L261.5,1474.2 L264.5,1474.8 L267.5,1475.4 L270.5,1476.0 L273.5,1476.6 L276.5,1477.1 L279.5,1477.7 L282.5,1478.3 L285.5,1478.9 L288.5,1479.5 L291.5,1480.0 L294.5,1480.6 L297.5,1481.1 L300.5,1481.6 L303.5,1482.1 L306.5,1482.6 L309.5,1483.2 L312.5,1483.7 L315.5,1484.2 L318.5,1484.7 L321.5,1485.2 L324.5,1485.7 L327.5,1486.2 L330.5,1486.8 L333.5,1487.3 L336.5,1487.8 L339.5,1488.3 L342.5,1488.8 L345.5,1489.3 L348.5,1489.8 L351.5,1490.4 L354.5,1490.9 L357.5,1491.4 L360.5,1491.9 L363.5,1492.5 L366.5,1493.0 L369.5,1493.6 L372.5,1494.1 L375.5,1494.7 L378.5,1495.3 L381.5,1495.8 L384.5,1496.4 L387.5,1496.9 L390.5,1497.5 L393.5,1498.0 L396.5,1498.4 L399.5,1498.8 L402.5,1499.1 L405.5,1499.4 L408.5,1499.7 L411.5,1500.1 L414.5,1500.4 L417.5,1500.6 L420.5,1500.8 L423.5,1500.8 L426.5,1500.7 L429.5,1500.5 L432.5,1500.4 L435.5,1500.2 L438.5,1499.9 L441.5,1499.6 L444.5,1499.2 L447.5,1498.9 L450.5,1498.6 L453.5,1498.3 L456.5,1498.0 L459.5,1497.8 L462.5,1497.5 L465.5,1497.2 L468.5,1496.9 L471.5,1496.6 L474.5,1496.4 L477.5,1496.1 L480.5,1495.8 L483.5,1495.5 L486.5,1495.3 L489.5,1495.0 L492.5,1494.7 L495.5,1494.4 L498.5,1494.1 L501.5,1493.9 L504.5,1493.6 L507.5,1493.2 L510.5,1492.8 L513.5,1492.2 L516.5,1491.6 L519.5,1491.0 L522.5,1490.3 L525.5,1489.7 L528.5,1489.0 L531.5,1488.4 L534.5,1487.7 L537.5,1487.1 L540.5,1486.4 L543.5,1485.8 L546.5,1485.1 L549.5,1484.5 L552.5,1483.9 L555.5,1483.3 L558.5,1482.7 L561.5,1482.1 L564.5,1481.5 L567.5,1480.9 L570.5,1480.3 L573.5,1479.7 L576.5,1479.1 L579.5,1478.5 L582.5,1477.9 L585.5,1477.4 L588.5,1476.8 L591.5,1476.2 L594.5,1475.6 L597.5,1475.0 L600.5,1474.4 L603.5,1473.8 L606.5,1473.2 L609.5,1472.7 L612.5,1472.1 L615.5,1471.5 L618.5,1470.9 L621.5,1470.2 L624.5,1469.6 L627.5,1468.9 L630.5,1468.2 L633.5,1467.5 L636.5,1466.8 L639.5,1466.1 L642.5,1465.4 L645.5,1464.7 L648.5,1464.0 L651.5,1463.3 L654.5,1462.6 L657.5,1461.7 L660.5,1460.9 L663.5,1460.0 L666.5,1459.1 L669.5,1458.2 L672.5,1457.4 L675.5,1456.5 L678.5,1455.6 L681.5,1454.7 L684.5,1453.8 L687.5,1453.0 L690.5,1452.1 L693.5,1451.3 L696.5,1450.6 L699.5,1449.8 L702.5,1449.1 L705.5,1448.3 L708.5,1447.5 L711.5,1446.8 L714.5,1446.0 L717.5,1445.3 L720.5,1444.5 L723.5,1443.7 L726.5,1443.0 L729.5,1442.2 L732.5,1441.5 L735.5,1440.7 L738.5,1440.0 L741.5,1439.2 L744.5,1438.4 L747.5,1437.7 L750.5,1436.9 L753.5,1436.2 L756.5,1435.4 L759.5,1434.7 L762.5,1433.9 L765.5,1433.2 L768.5,1432.4 L771.5,1431.7 L774.5,1431.0 L777.5,1430.3 L780.5,1429.6 L783.5,1428.9 L786.5,1428.2 L789.5,1427.6 L792.5,1426.9 L795.5,1426.2 L798.5,1425.5 L801.5,1424.8" fill="none" stroke="#dc1c1c" stroke-width="3.6" stroke-dasharray="11.3,12"/>
<path d="M78.5,1324.4 L81.5,1325.3 L84.5,1326.2 L87.5,1327.1 L90.5,1328.1 L93.5,1329.0 L96.5,1329.9 L99.5,1330.8 L102.5,1331.7 L105.5,1332.6 L108.5,1333.6 L111.5,1334.5 L114.5,1335.4 L117.5,1336.3 L120.5,1337.2 L123.5,1338.1 L126.5,1339.1 L129.5,1340.0 L132.5,1340.9 L135.5,1341.8 L138.5,1342.7 L141.5,1343.6 L144.5,1344.5 L147.5,1345.5 L150.5,1346.4 L153.5,1347.3 L156.5,1348.2 L159.5,1349.1 L162.5,1350.0 L165.5,1351.0 L168.5,1351.9 L171.5,1352.8 L174.5,1353.7 L177.5,1354.6 L180.5,1355.5 L183.5,1356.5 L186.5,1357.4 L189.5,1358.3 L192.5,1359.2 L195.5,1360.1 L198.5,1361.0 L201.5,1362.0 L204.5,1362.9 L207.5,1363.8 L210.5,1364.7 L213.5,1365.6 L216.5,1366.5 L219.5,1367.4 L222.5,1368.3 L225.5,1369.2 L228.5,1370.0 L231.5,1370.9 L234.5,1371.8 L237.5,1372.6 L240.5,1373.5 L243.5,1374.4 L246.5,1375.2 L249.5,1376.1 L252.5,1377.0 L255.5,1377.8 L258.5,1378.7 L261.5,1379.5 L264.5,1380.4 L267.5,1381.3 L270.5,1382.1 L273.5,1383.0 L276.5,1383.9 L279.5,1384.7 L282.5,1385.6 L285.5,1386.5 L288.5,1387.3 L291.5,1388.2 L294.5,1389.2 L297.5,1390.1 L300.5,1391.1 L303.5,1392.1 L306.5,1393.0 L309.5,1394.0 L312.5,1395.0 L315.5,1395.9 L318.5,1396.9 L321.5,1397.8 L324.5,1398.8 L327.5,1399.8 L330.5,1400.7 L333.5,1401.7 L336.5,1402.7 L339.5,1403.6 L342.5,1404.6 L345.5,1405.5 L348.5,1406.5 L351.5,1407.5 L354.5,1408.4 L357.5,1409.4 L360.5,1410.4 L363.5,1411.4 L366.5,1412.4 L369.5,1413.4 L372.5,1414.5 L375.5,1415.5 L378.5,1416.5 L381.5,1417.6 L384.5,1418.6 L387.5,1419.6 L390.5,1420.7 L393.5,1421.7 L396.5,1422.8 L399.5,1423.8 L402.5,1424.8 L405.5,1425.9 L408.5,1426.9 L411.5,1428.0 L414.5,1429.0 L417.5,1430.0 L420.5,1431.1 L423.5,1432.1 L426.5,1433.1 L429.5,1434.2 L432.5,1435.2 L435.5,1436.2 L438.5,1437.2 L441.5,1438.1 L444.5,1438.9 L447.5,1439.8 L450.5,1440.7 L453.5,1441.6 L456.5,1442.4 L459.5,1443.3 L462.5,1444.2 L465.5,1445.1 L468.5,1446.0 L471.5,1446.8 L474.5,1447.7 L477.5,1448.6 L480.5,1449.5 L483.5,1450.4 L486.5,1451.2 L489.5,1452.1 L492.5,1453.0 L495.5,1453.9 L498.5,1454.7 L501.5,1455.6 L504.5,1456.5 L507.5,1457.4 L510.5,1458.3 L513.5,1459.2 L516.5,1460.1 L519.5,1461.1 L522.5,1462.0 L525.5,1462.9 L528.5,1463.8 L531.5,1464.8 L534.5,1465.7 L537.5,1466.6 L540.5,1467.5 L543.5,1468.5 L546.5,1469.4 L549.5,1470.3 L552.5,1471.2 L555.5,1472.0 L558.5,1472.9 L561.5,1473.7 L564.5,1474.6 L567.5,1475.5 L570.5,1476.3 L573.5,1477.2 L576.5,1478.0 L579.5,1478.9 L582.5,1479.6 L585.5,1480.2 L588.5,1480.8 L591.5,1481.3 L594.5,1481.8 L597.5,1482.3 L600.5,1482.8 L603.5,1483.3 L606.5,1483.8 L609.5,1484.3 L612.5,1484.8 L615.5,1485.3 L618.5,1485.8 L621.5,1486.3 L624.5,1486.8 L627.5,1487.3 L630.5,1487.8 L633.5,1488.3 L636.5,1488.8 L639.5,1489.3 L642.5,1489.8 L645.5,1490.3 L648.5,1490.8 L651.5,1491.3 L654.5,1491.8 L657.5,1492.4 L660.5,1493.0 L663.5,1493.6 L666.5,1494.2 L669.5,1494.8 L672.5,1495.5 L675.5,1496.1 L678.5,1496.7 L681.5,1497.3 L684.5,1497.9 L687.5,1498.5 L690.5,1499.0 L693.5,1499.4 L696.5,1499.8 L699.5,1500.2 L702.5,1500.6 L705.5,1501.0 L708.5,1501.4 L711.5,1501.8 L714.5,1502.1 L717.5,1502.5 L720.5,1502.9 L723.5,1503.3 L726.5,1503.7 L729.5,1503.9 L732.5,1503.9 L735.5,1503.6 L738.5,1503.2 L741.5,1502.8 L744.5,1502.4 L747.5,1501.9 L750.5,1501.5 L753.5,1501.1 L756.5,1500.6 L759.5,1500.2 L762.5,1499.8 L765.5,1499.3 L768.5,1498.9 L771.5,1498.4 L774.5,1497.9 L777.5,1497.3 L780.5,1496.8 L783.5,1496.2 L786.5,1495.7 L789.5,1495.2 L792.5,1494.6 L795.5,1494.1 L798.5,1493.5 L801.5,1493.0" fill="none" stroke="#1414c8" stroke-width="3.6" stroke-dasharray="11.3,12"/>
<path d="M78.2,1305.5 L81.2,1306.0 L84.2,1306.6 L87.2,1307.3 L90.2,1308.0 L93.2,1308.9 L96.2,1310.0 L99.2,1311.0 L102.2,1312.2 L105.2,1313.3 L108.2,1314.5 L111.2,1315.6 L114.2,1316.8 L117.2,1317.9 L120.2,1319.1 L123.2,1320.2 L126.2,1321.4 L129.2,1322.5 L132.2,1323.7 L135.2,1324.8 L138.2,1326.0 L141.2,1327.1 L144.2,1328.3 L147.2,1329.4 L150.2,1330.6 L153.2,1331.7 L156.2,1332.9 L159.2,1334.1 L162.2,1335.2 L165.2,1336.4 L168.2,1337.5 L171.2,1338.7 L174.2,1339.8 L177.2,1341.0 L180.2,1342.1 L183.2,1343.3 L186.2,1344.4 L189.2,1345.6 L192.2,1346.7 L195.2,1347.9 L198.2,1349.0 L201.2,1350.2 L204.2,1351.3 L207.2,1352.5 L210.2,1353.6 L213.2,1354.8 L216.2,1355.9 L219.2,1357.1 L222.2,1358.2 L225.2,1359.3 L228.2,1360.4 L231.2,1361.5 L234.2,1362.7 L237.2,1363.8 L240.2,1364.9 L243.2,1366.0 L246.2,1367.1 L249.2,1368.2 L252.2,1369.3 L255.2,1370.4 L258.2,1371.5 L261.2,1372.7 L264.2,1373.8 L267.2,1374.9 L270.2,1376.0 L273.2,1377.1 L276.2,1378.2 L279.2,1379.3 L282.2,1380.4 L285.2,1381.5 L288.2,1382.6 L291.2,1383.7 L294.2,1384.8 L297.2,1385.9 L300.2,1387.0 L303.2,1388.1 L306.2,1389.2 L309.2,1390.3 L312.2,1391.3 L315.2,1392.4 L318.2,1393.5 L321.2,1394.6 L324.2,1395.7 L327.2,1396.7 L330.2,1397.8 L333.2,1398.9 L336.2,1400.0 L339.2,1401.1 L342.2,1402.2 L345.2,1403.2 L348.2,1404.3 L351.2,1405.4 L354.2,1406.5 L357.2,1407.6 L360.2,1408.6 L363.2,1409.6 L366.2,1410.6 L369.2,1411.6 L372.2,1412.6 L375.2,1413.5 L378.2,1414.5 L381.2,1415.4 L384.2,1416.4 L387.2,1417.4 L390.2,1418.3 L393.2,1419.3 L396.2,1420.2 L399.2,1421.2 L402.2,1422.1 L405.2,1423.1 L408.2,1424.0 L411.2,1425.0 L414.2,1425.9 L417.2,1426.9 L420.2,1427.8 L423.2,1428.8 L426.2,1429.7 L429.2,1430.7 L432.2,1431.6 L435.2,1432.6 L438.2,1433.5 L441.2,1434.3 L444.2,1435.2 L447.2,1436.0 L450.2,1436.9 L453.2,1437.7 L456.2,1438.5 L459.2,1439.3 L462.2,1440.2 L465.2,1441.0 L468.2,1441.8 L471.2,1442.6 L474.2,1443.5 L477.2,1444.3 L480.2,1445.1 L483.2,1445.9 L486.2,1446.8 L489.2,1447.6 L492.2,1448.4 L495.2,1449.2 L498.2,1450.1 L501.2,1450.9 L504.2,1451.6 L507.2,1452.4 L510.2,1453.0 L513.2,1453.6 L516.2,1454.2 L519.2,1454.7 L522.2,1455.2 L525.2,1455.6 L528.2,1456.1 L531.2,1456.6 L534.2,1457.1 L537.2,1457.5 L540.2,1458.0 L543.2,1458.5 L546.2,1458.9 L549.2,1459.4 L552.2,1459.8 L555.2,1460.1 L558.2,1460.4 L561.2,1460.6 L564.2,1460.8 L567.2,1460.9 L570.2,1461.0 L573.2,1461.0 L576.2,1461.1 L579.2,1461.1 L582.2,1461.1 L585.2,1461.0 L588.2,1461.0 L591.2,1460.8 L594.2,1460.7 L597.2,1460.5 L600.2,1460.4 L603.2,1460.2 L606.2,1460.1 L609.2,1459.9 L612.2,1459.7 L615.2,1459.5 L618.2,1459.3 L621.2,1459.0 L624.2,1458.7 L627.2,1458.3 L630.2,1458.0 L633.2,1457.6 L636.2,1457.2 L639.2,1456.8 L642.2,1456.4 L645.2,1456.0 L648.2,1455.6 L651.2,1455.2 L654.2,1454.7 L657.2,1454.3 L660.2,1453.8 L663.2,1453.3 L666.2,1452.7 L669.2,1452.2 L672.2,1451.7 L675.2,1451.1 L678.2,1450.6 L681.2,1450.1 L684.2,1449.5 L687.2,1448.9 L690.2,1448.4 L693.2,1447.7 L696.2,1447.1 L699.2,1446.5 L702.2,1445.8 L705.2,1445.2 L708.2,1444.5 L711.2,1443.9 L714.2,1443.3 L717.2,1442.6 L720.2,1441.9 L723.2,1441.3 L726.2,1440.6 L729.2,1439.8 L732.2,1439.1 L735.2,1438.3 L738.2,1437.4 L741.2,1436.6 L744.2,1435.8 L747.2,1434.9 L750.2,1434.1 L753.2,1433.2 L756.2,1432.4 L759.2,1431.5 L762.2,1430.7 L765.2,1429.9 L768.2,1429.1 L771.2,1428.3 L774.2,1427.5 L777.2,1426.7 L780.2,1426.0 L783.2,1425.2 L786.2,1424.5 L789.2,1423.8 L792.2,1423.0 L795.2,1422.3 L798.2,1421.6 L801.2,1420.9 L801.5,1420.7" fill="none" stroke="#000" stroke-width="4.6"/>
<circle cx="78.2" cy="1305.5" r="11.4" fill="#000"/>
<circle cx="568.9" cy="1460.5" r="11.4" fill="#000"/>
<line x1="90.3" y1="1338.8" x2="90.3" y2="1436" stroke="#000" stroke-width="2.2"/>
<path d="M85.6,1435 L95,1435 L90.3,1446.8 Z" fill="#000"/>
<text x="104.6" y="1391.6" font-size="22.8" text-anchor="start" fill="#111" font-weight="bold" font-family="'Liberation Serif', serif" textLength="114.9" lengthAdjust="spacingAndGlyphs" >Reduced by</text>
<text x="129.9" y="1419.6" font-size="22.8" text-anchor="start" fill="#111" font-weight="bold" font-family="'Liberation Serif', serif" textLength="63.4" lengthAdjust="spacingAndGlyphs" >71.9%</text>
<text x="402.9" y="454.5" font-size="32" text-anchor="start" fill="#000" font-weight="bold" font-family="'Liberation Sans', sans-serif" textLength="22.4" lengthAdjust="spacingAndGlyphs" >A</text>
<text x="402.3" y="907.2" font-size="32" text-anchor="start" fill="#000" font-weight="bold" font-family="'Liberation Sans', sans-serif" textLength="20.6" lengthAdjust="spacingAndGlyphs" >B</text>
<text x="402.6" y="1649.7" font-size="31" text-anchor="start" fill="#000" font-weight="bold" font-family="'Liberation Sans', sans-serif" textLength="22.4" lengthAdjust="spacingAndGlyphs" >C</text>
<line x1="404.4" y1="492.6" x2="404.4" y2="800.4" stroke="#e9e9e9" stroke-width="1.2"/>
<line x1="469.9" y1="492.6" x2="469.9" y2="800.4" stroke="#e9e9e9" stroke-width="1.2"/>
<line x1="535.4" y1="492.6" x2="535.4" y2="800.4" stroke="#e9e9e9" stroke-width="1.2"/>
<line x1="600.9" y1="492.6" x2="600.9" y2="800.4" stroke="#e9e9e9" stroke-width="1.2"/>
<line x1="666.4" y1="492.6" x2="666.4" y2="800.4" stroke="#e9e9e9" stroke-width="1.2"/>
<line x1="731.9" y1="492.6" x2="731.9" y2="800.4" stroke="#e9e9e9" stroke-width="1.2"/>
<line x1="797.4" y1="492.6" x2="797.4" y2="800.4" stroke="#e9e9e9" stroke-width="1.2"/>
<line x1="404.4" y1="799.7" x2="797.4" y2="799.7" stroke="#e9e9e9" stroke-width="1.2"/>
<line x1="404.4" y1="738.4" x2="797.4" y2="738.4" stroke="#e9e9e9" stroke-width="1.2"/>
<line x1="404.4" y1="677.1" x2="797.4" y2="677.1" stroke="#e9e9e9" stroke-width="1.2"/>
<line x1="404.4" y1="615.8" x2="797.4" y2="615.8" stroke="#e9e9e9" stroke-width="1.2"/>
<line x1="404.4" y1="554.5" x2="797.4" y2="554.5" stroke="#e9e9e9" stroke-width="1.2"/>
<line x1="404.4" y1="493.2" x2="797.4" y2="493.2" stroke="#e9e9e9" stroke-width="1.2"/>
<rect x="404.4" y="492.6" width="393.0" height="307.79999999999995" fill="none" stroke="#808080" stroke-width="1.5"/>
<line x1="404.4" y1="800.4" x2="404.4" y2="796.4" stroke="#808080" stroke-width="1.3"/>
<line x1="404.4" y1="492.6" x2="404.4" y2="496.6" stroke="#808080" stroke-width="1.3"/>
<line x1="469.9" y1="800.4" x2="469.9" y2="796.4" stroke="#808080" stroke-width="1.3"/>
<line x1="469.9" y1="492.6" x2="469.9" y2="496.6" stroke="#808080" stroke-width="1.3"/>
<line x1="535.4" y1="800.4" x2="535.4" y2="796.4" stroke="#808080" stroke-width="1.3"/>
<line x1="535.4" y1="492.6" x2="535.4" y2="496.6" stroke="#808080" stroke-width="1.3"/>
<line x1="600.9" y1="800.4" x2="600.9" y2="796.4" stroke="#808080" stroke-width="1.3"/>
<line x1="600.9" y1="492.6" x2="600.9" y2="496.6" stroke="#808080" stroke-width="1.3"/>
<line x1="666.4" y1="800.4" x2="666.4" y2="796.4" stroke="#808080" stroke-width="1.3"/>
<line x1="666.4" y1="492.6" x2="666.4" y2="496.6" stroke="#808080" stroke-width="1.3"/>
<line x1="731.9" y1="800.4" x2="731.9" y2="796.4" stroke="#808080" stroke-width="1.3"/>
<line x1="731.9" y1="492.6" x2="731.9" y2="496.6" stroke="#808080" stroke-width="1.3"/>
<line x1="797.4" y1="800.4" x2="797.4" y2="796.4" stroke="#808080" stroke-width="1.3"/>
<line x1="797.4" y1="492.6" x2="797.4" y2="496.6" stroke="#808080" stroke-width="1.3"/>
<line x1="404.4" y1="799.7" x2="408.4" y2="799.7" stroke="#808080" stroke-width="1.3"/>
<line x1="797.4" y1="799.7" x2="793.4" y2="799.7" stroke="#808080" stroke-width="1.3"/>
<line x1="404.4" y1="738.4" x2="408.4" y2="738.4" stroke="#808080" stroke-width="1.3"/>
<line x1="797.4" y1="738.4" x2="793.4" y2="738.4" stroke="#808080" stroke-width="1.3"/>
<line x1="404.4" y1="677.1" x2="408.4" y2="677.1" stroke="#808080" stroke-width="1.3"/>
<line x1="797.4" y1="677.1" x2="793.4" y2="677.1" stroke="#808080" stroke-width="1.3"/>
<line x1="404.4" y1="615.8" x2="408.4" y2="615.8" stroke="#808080" stroke-width="1.3"/>
<line x1="797.4" y1="615.8" x2="793.4" y2="615.8" stroke="#808080" stroke-width="1.3"/>
<line x1="404.4" y1="554.5" x2="408.4" y2="554.5" stroke="#808080" stroke-width="1.3"/>
<line x1="797.4" y1="554.5" x2="793.4" y2="554.5" stroke="#808080" stroke-width="1.3"/>
<line x1="404.4" y1="493.2" x2="408.4" y2="493.2" stroke="#808080" stroke-width="1.3"/>
<line x1="797.4" y1="493.2" x2="793.4" y2="493.2" stroke="#808080" stroke-width="1.3"/>
<text x="404.4" y="828.3" font-size="19.5" text-anchor="middle" fill="#262626" font-weight="normal" font-family="'Liberation Sans', sans-serif" >0</text>
<text x="469.9" y="828.3" font-size="19.5" text-anchor="middle" fill="#262626" font-weight="normal" font-family="'Liberation Sans', sans-serif" >20</text>
<text x="535.4" y="828.3" font-size="19.5" text-anchor="middle" fill="#262626" font-weight="normal" font-family="'Liberation Sans', sans-serif" >40</text>
<text x="600.9" y="828.3" font-size="19.5" text-anchor="middle" fill="#262626" font-weight="normal" font-family="'Liberation Sans', sans-serif" >60</text>
<text x="666.4" y="828.3" font-size="19.5" text-anchor="middle" fill="#262626" font-weight="normal" font-family="'Liberation Sans', sans-serif" >80</text>
<text x="731.9" y="828.3" font-size="19.5" text-anchor="middle" fill="#262626" font-weight="normal" font-family="'Liberation Sans', sans-serif" >100</text>
<text x="797.4" y="828.3" font-size="19.5" text-anchor="middle" fill="#262626" font-weight="normal" font-family="'Liberation Sans', sans-serif" >120</text>
<text x="398.2" y="806.9000000000001" font-size="19.5" text-anchor="end" fill="#262626" font-weight="normal" font-family="'Liberation Sans', sans-serif" >-30</text>
<text x="398.2" y="745.6" font-size="19.5" text-anchor="end" fill="#262626" font-weight="normal" font-family="'Liberation Sans', sans-serif" >-20</text>
<text x="398.2" y="684.3000000000001" font-size="19.5" text-anchor="end" fill="#262626" font-weight="normal" font-family="'Liberation Sans', sans-serif" >-10</text>
<text x="398.2" y="623.0" font-size="19.5" text-anchor="end" fill="#262626" font-weight="normal" font-family="'Liberation Sans', sans-serif" >0</text>
<text x="398.2" y="561.7" font-size="19.5" text-anchor="end" fill="#262626" font-weight="normal" font-family="'Liberation Sans', sans-serif" >10</text>
<text x="398.2" y="500.4" font-size="19.5" text-anchor="end" fill="#262626" font-weight="normal" font-family="'Liberation Sans', sans-serif" >20</text>
<text x="0" y="0" font-size="21.6" text-anchor="middle" fill="#262626" font-weight="normal" font-family="'Liberation Sans', sans-serif" textLength="185" lengthAdjust="spacingAndGlyphs" transform="translate(360.3,647) rotate(-90)">Misalignment (mm)</text>
<text x="474.5" y="856.1" font-size="21.5" text-anchor="start" fill="#262626" font-weight="normal" font-family="'Liberation Sans', sans-serif" textLength="252.5" lengthAdjust="spacingAndGlyphs" >Knee Flexison Angle (deg)</text>
<path d="M420.8,615.8 L427.3,613.7 L433.9,612.1 L440.4,611.3 L447.0,611.2 L453.5,611.6 L460.1,612.5 L466.6,613.6 L473.2,614.6 L479.7,615.5 L486.3,616.1 L492.8,616.4 L499.4,616.5 L505.9,616.5 L512.5,616.2 L519.0,615.8 L525.6,615.1 L532.1,614.1 L538.7,612.6 L545.2,610.8 L551.8,608.8 L558.3,606.6 L564.9,604.3 L571.4,602.0 L578.0,599.6 L584.5,597.1 L591.1,594.5 L597.6,591.9 L604.2,589.3 L610.7,586.6 L617.3,583.9 L623.8,581.1 L630.4,578.4 L636.9,575.6 L643.5,572.8 L650.0,570.0 L656.6,567.3 L663.1,564.5 L669.7,561.8 L676.2,559.0 L682.8,556.3 L689.3,553.6 L695.9,550.9 L702.4,548.2 L709.0,545.6 L715.5,542.9 L722.1,540.2 L728.6,537.5 L735.2,535.0 L741.7,532.5 L748.3,530.1 L754.8,527.7 L761.4,525.4 L767.9,523.0 L774.5,520.6 L781.0,518.2 L787.6,515.8 L794.1,513.4 L797.4,512.2" fill="none" stroke="#d80a14" stroke-width="4.2" stroke-linejoin="round" stroke-linecap="round"/>
<path d="M420.9,614.8 L424.1,613.8 L427.2,613.1 L430.4,612.6 L433.5,612.1 L436.7,611.8 L439.8,611.7 L443.0,611.6 L446.1,611.6 L449.3,611.7 L452.5,611.9 L455.6,612.1 L458.8,612.4 L461.9,612.7 L465.1,613.0 L468.2,613.3 L471.4,613.7 L474.5,614.1 L477.7,614.4 L480.9,614.8 L484.0,615.1 L487.2,615.4 L490.3,615.7 L493.5,616.0 L496.6,616.2 L499.8,616.4 L502.9,616.6 L506.1,616.7 L509.3,616.8 L512.4,616.9 L515.6,616.9 L518.7,616.9 L521.9,616.8 L525.0,616.7 L528.2,616.5 L531.3,616.3 L534.5,616.0 L537.7,615.8 L540.8,615.4 L544.0,615.1 L547.1,614.7 L550.3,614.2 L553.4,613.7 L556.6,613.2 L559.7,612.7 L562.9,612.1 L566.1,611.5 L569.2,610.9 L572.4,610.2 L575.5,609.6 L578.7,608.9 L581.8,608.2 L585.0,607.5 L588.1,606.8 L591.3,606.1 L594.5,605.4 L597.6,604.7 L600.8,603.9 L603.9,603.2 L607.1,602.5 L610.2,601.8 L613.4,601.1 L616.5,600.5 L619.7,599.8 L622.8,599.2 L626.0,598.6 L629.2,598.0 L632.3,597.5 L635.5,596.9 L638.6,596.4 L641.8,596.0 L644.9,595.6 L648.1,595.2 L651.2,594.8 L654.4,594.5 L657.6,594.2 L660.7,594.0 L663.9,593.8 L667.0,593.7 L670.2,593.6 L673.3,593.6 L676.5,593.6 L679.6,593.6 L682.8,593.7 L686.0,593.9 L689.1,594.1 L692.3,594.3 L695.4,594.6 L698.6,594.9 L701.7,595.3 L704.9,595.8 L708.0,596.3 L711.2,596.8 L714.4,597.4 L717.5,598.0 L720.7,598.7 L723.8,599.4 L727.0,600.1 L730.1,600.9 L733.3,601.7 L736.4,602.6 L739.6,603.5 L742.8,604.4 L745.9,605.4 L749.1,606.4 L752.2,607.4 L755.4,608.4 L758.5,609.5 L761.7,610.6 L764.8,611.7 L768.0,612.9 L771.2,614.0 L774.3,615.2 L777.5,616.3 L780.6,617.5 L783.8,618.7 L786.9,619.9 L790.1,621.1 L793.2,622.3 L796.4,623.5" fill="none" stroke="#d80a14" stroke-width="4.2" stroke-linejoin="round" stroke-linecap="round"/>
<path d="M420.9,615.8 L424.1,614.1 L427.2,612.7 L430.4,611.8 L433.5,611.1 L436.7,610.7 L439.9,610.5 L443.0,610.5 L446.2,610.6 L449.4,610.9 L452.5,611.2 L455.7,611.7 L458.8,612.1 L462.0,612.7 L465.2,613.2 L468.3,613.7 L471.5,614.3 L474.6,614.8 L477.8,615.3 L481.0,615.8 L484.1,616.2 L487.3,616.6 L490.4,617.0 L493.6,617.3 L496.8,617.6 L499.9,617.9 L503.1,618.1 L506.3,618.3 L509.4,618.4 L512.6,618.5 L515.7,618.6 L518.9,618.7 L522.1,618.7 L525.2,618.7 L528.4,618.7 L531.5,618.7 L534.7,618.6 L537.9,618.6 L541.0,618.6 L544.2,618.5 L547.4,618.4 L550.5,618.4 L553.7,618.4 L556.8,618.3 L560.0,618.3 L563.2,618.3 L566.3,618.3 L569.5,618.3 L572.6,618.3 L575.8,618.4 L579.0,618.4 L582.1,618.5 L585.3,618.6 L588.5,618.7 L591.6,618.8 L594.8,619.0 L597.9,619.2 L601.1,619.4 L604.3,619.6 L607.4,619.8 L610.6,620.0 L613.7,620.3 L616.9,620.6 L620.1,620.9 L623.2,621.2 L626.4,621.5 L629.5,621.9 L632.7,622.3 L635.9,622.7 L639.0,623.1 L642.2,623.5 L645.4,624.0 L648.5,624.5 L651.7,625.0 L654.8,625.6 L658.0,626.2 L661.2,626.8 L664.3,627.4 L667.5,628.1 L670.6,628.9 L673.8,629.7 L677.0,630.5 L680.1,631.4 L683.3,632.4 L686.5,633.4 L689.6,634.6 L692.8,635.7 L695.9,637.0 L699.1,638.4 L702.3,639.8 L705.4,641.4 L708.6,643.1 L711.7,644.8 L714.9,646.7 L718.1,648.7 L721.2,650.9 L724.4,653.1 L727.6,655.5 L730.7,658.1 L733.9,660.8 L737.0,663.6 L740.2,666.5 L743.4,669.6 L746.5,672.8 L749.7,676.2 L752.8,679.7 L756.0,683.3 L759.2,687.0 L762.3,690.9 L765.5,694.8 L768.6,698.8 L771.8,702.8 L775.0,706.9 L778.1,711.0 L781.3,715.1 L784.5,719.2 L787.6,723.1 L790.8,727.0 L793.9,730.6 L797.1,734.1" fill="none" stroke="#d80a14" stroke-width="4.2" stroke-linejoin="round" stroke-linecap="round"/>
<path d="M420.9,615.5 L424.1,617.4 L427.2,618.9 L430.4,620.0 L433.5,620.8 L436.7,621.4 L439.8,621.6 L443.0,621.7 L446.1,621.6 L449.3,621.3 L452.5,620.9 L455.6,620.4 L458.8,619.8 L461.9,619.2 L465.1,618.5 L468.2,617.8 L471.4,617.0 L474.5,616.3 L477.7,615.5 L480.9,614.8 L484.0,614.1 L487.2,613.4 L490.3,612.8 L493.5,612.2 L496.6,611.7 L499.8,611.2 L502.9,610.8 L506.1,610.4 L509.3,610.1 L512.4,609.8 L515.6,609.7 L518.7,609.5 L521.9,609.5 L525.0,609.4 L528.2,609.5 L531.3,609.6 L534.5,609.7 L537.7,609.9 L540.8,610.2 L544.0,610.5 L547.1,610.8 L550.3,611.2 L553.4,611.6 L556.6,612.0 L559.7,612.5 L562.9,613.0 L566.1,613.5 L569.2,614.1 L572.4,614.7 L575.5,615.2 L578.7,615.9 L581.8,616.5 L585.0,617.1 L588.1,617.7 L591.3,618.4 L594.5,619.0 L597.6,619.7 L600.8,620.3 L603.9,621.0 L607.1,621.6 L610.2,622.2 L613.4,622.9 L616.5,623.5 L619.7,624.1 L622.8,624.7 L626.0,625.3 L629.2,625.9 L632.3,626.4 L635.5,627.0 L638.6,627.5 L641.8,628.1 L644.9,628.6 L648.1,629.1 L651.2,629.5 L654.4,630.0 L657.6,630.4 L660.7,630.8 L663.9,631.2 L667.0,631.6 L670.2,632.0 L673.3,632.3 L676.5,632.7 L679.6,632.9 L682.8,633.2 L686.0,633.5 L689.1,633.7 L692.3,633.9 L695.4,634.1 L698.6,634.2 L701.7,634.3 L704.9,634.4 L708.0,634.4 L711.2,634.5 L714.4,634.4 L717.5,634.4 L720.7,634.3 L723.8,634.1 L727.0,633.9 L730.1,633.7 L733.3,633.4 L736.4,633.1 L739.6,632.7 L742.8,632.2 L745.9,631.7 L749.1,631.1 L752.2,630.5 L755.4,629.8 L758.5,629.0 L761.7,628.2 L764.8,627.3 L768.0,626.3 L771.2,625.2 L774.3,624.1 L777.5,622.8 L780.6,621.5 L783.8,620.1 L786.9,618.6 L790.1,617.1 L793.2,615.4 L796.4,613.7" fill="none" stroke="#0a0ac8" stroke-width="4.2" stroke-linejoin="round" stroke-linecap="round"/>
<path d="M420.9,615.9 L424.1,617.7 L427.2,619.3 L430.4,620.5 L433.5,621.5 L436.7,622.2 L439.9,622.7 L443.0,623.0 L446.2,623.2 L449.4,623.2 L452.5,623.1 L455.7,622.9 L458.8,622.7 L462.0,622.4 L465.2,622.0 L468.3,621.6 L471.5,621.2 L474.6,620.8 L477.8,620.4 L481.0,620.0 L484.1,619.6 L487.3,619.3 L490.4,619.0 L493.6,618.7 L496.8,618.6 L499.9,618.4 L503.1,618.3 L506.3,618.3 L509.4,618.4 L512.6,618.5 L515.7,618.7 L518.9,618.9 L522.1,619.3 L525.2,619.7 L528.4,620.1 L531.5,620.7 L534.7,621.3 L537.9,622.0 L541.0,622.7 L544.2,623.5 L547.4,624.4 L550.5,625.3 L553.7,626.3 L556.8,627.3 L560.0,628.4 L563.2,629.5 L566.3,630.7 L569.5,631.9 L572.6,633.1 L575.8,634.4 L579.0,635.7 L582.1,637.1 L585.3,638.5 L588.5,639.9 L591.6,641.3 L594.8,642.7 L597.9,644.2 L601.1,645.6 L604.3,647.1 L607.4,648.6 L610.6,650.1 L613.7,651.6 L616.9,653.1 L620.1,654.6 L623.2,656.1 L626.4,657.6 L629.5,659.1 L632.7,660.6 L635.9,662.1 L639.0,663.5 L642.2,665.0 L645.4,666.5 L648.5,668.0 L651.7,669.5 L654.8,670.9 L658.0,672.4 L661.2,673.9 L664.3,675.3 L667.5,676.8 L670.6,678.3 L673.8,679.7 L677.0,681.2 L680.1,682.7 L683.3,684.2 L686.5,685.7 L689.6,687.2 L692.8,688.7 L695.9,690.2 L699.1,691.8 L702.3,693.3 L705.4,694.9 L708.6,696.5 L711.7,698.1 L714.9,699.8 L718.1,701.4 L721.2,703.1 L724.4,704.8 L727.6,706.6 L730.7,708.3 L733.9,710.1 L737.0,711.9 L740.2,713.8 L743.4,715.6 L746.5,717.5 L749.7,719.4 L752.8,721.3 L756.0,723.2 L759.2,725.2 L762.3,727.1 L765.5,729.0 L768.6,730.9 L771.8,732.8 L775.0,734.7 L778.1,736.5 L781.3,738.3 L784.5,740.1 L787.6,741.8 L790.8,743.4 L793.9,744.9 L797.1,746.3" fill="none" stroke="#0a0ac8" stroke-width="4.2" stroke-linejoin="round" stroke-linecap="round"/>
<path d="M420.9,616.3 L423.6,617.3 L426.3,618.3 L429.0,619.2 L431.7,620.1 L434.4,620.9 L437.1,621.6 L439.8,622.3 L442.5,622.9 L445.1,623.5 L447.8,623.9 L450.5,624.4 L453.2,624.7 L455.9,625.0 L458.6,625.2 L461.3,625.4 L464.0,625.5 L466.7,625.6 L469.4,625.7 L472.1,625.7 L474.8,625.7 L477.5,625.7 L480.2,625.6 L482.9,625.6 L485.6,625.6 L488.3,625.5 L490.9,625.5 L493.6,625.5 L496.3,625.5 L499.0,625.6 L501.7,625.7 L504.4,625.8 L507.1,626.0 L509.8,626.2 L512.5,626.5 L515.2,626.8 L517.9,627.2 L520.6,627.7 L523.3,628.2 L526.0,628.8 L528.7,629.4 L531.4,630.1 L534.1,630.9 L536.7,631.7 L539.4,632.7 L542.1,633.7 L544.8,634.7 L547.5,635.8 L550.2,637.0 L552.9,638.3 L555.6,639.6 L558.3,641.0 L561.0,642.4 L563.7,643.9 L566.4,645.5 L569.1,647.1 L571.8,648.7 L574.5,650.4 L577.2,652.2 L579.9,654.0 L582.5,655.8 L585.2,657.6 L587.9,659.5 L590.6,661.4 L593.3,663.3 L596.0,665.3 L598.7,667.2 L601.4,669.2 L604.1,671.2 L606.8,673.2 L609.5,675.2 L612.2,677.2 L614.9,679.2 L617.6,681.3 L620.3,683.3 L623.0,685.3 L625.7,687.3 L628.3,689.4 L631.0,691.4 L633.7,693.4 L636.4,695.5 L639.1,697.5 L641.8,699.5 L644.5,701.6 L647.2,703.6 L649.9,705.7 L652.6,707.8 L655.3,709.8 L658.0,711.9 L660.7,714.1 L663.4,716.2 L666.1,718.4 L668.8,720.6 L671.5,722.9 L674.1,725.2 L676.8,727.5 L679.5,729.9 L682.2,732.3 L684.9,734.8 L687.6,737.3 L690.3,740.0 L693.0,742.6 L695.7,745.4 L698.4,748.2 L701.1,751.1 L703.8,754.0 L706.5,757.0 L709.2,760.1 L711.9,763.3 L714.6,766.5 L717.3,769.8 L719.9,773.2 L722.6,776.6 L725.3,780.0 L728.0,783.5 L730.7,787.0 L733.4,790.4 L736.1,793.9 L738.8,797.4 L741.5,800.7" fill="none" stroke="#0a0ac8" stroke-width="4.2" stroke-linejoin="round" stroke-linecap="round"/>
<text x="741.3" y="513.5" font-size="19" text-anchor="start" fill="#d02a3a" font-weight="normal" font-family="'Liberation Sans', sans-serif" textLength="46.3" lengthAdjust="spacingAndGlyphs" >D=90</text>
<text x="743.7" y="595" font-size="19" text-anchor="start" fill="#d02a3a" font-weight="normal" font-family="'Liberation Sans', sans-serif" textLength="45.3" lengthAdjust="spacingAndGlyphs" >D=45</text>
<text x="704" y="627" font-size="19" text-anchor="start" fill="#2a2ab8" font-weight="normal" font-family="'Liberation Sans', sans-serif" textLength="46.8" lengthAdjust="spacingAndGlyphs" >D=90</text>
<text x="745" y="667.6" font-size="19" text-anchor="start" fill="#d02a3a" font-weight="normal" font-family="'Liberation Sans', sans-serif" textLength="35" lengthAdjust="spacingAndGlyphs" >D=0</text>
<text x="703" y="689" font-size="19" text-anchor="start" fill="#2a2ab8" font-weight="normal" font-family="'Liberation Sans', sans-serif" textLength="46.6" lengthAdjust="spacingAndGlyphs" >D=45</text>
<text x="704" y="755" font-size="19" text-anchor="start" fill="#2a2ab8" font-weight="normal" font-family="'Liberation Sans', sans-serif" textLength="35.8" lengthAdjust="spacingAndGlyphs" >D=0</text>
<rect x="408" y="729.4" width="247" height="64.5" fill="#fff"/>
<line x1="420.2" y1="746.6" x2="461" y2="746.6" stroke="#d80a14" stroke-width="4.2"/>
<line x1="420.2" y1="772.7" x2="461" y2="772.7" stroke="#0a0ac8" stroke-width="4.2"/>
<text x="465.7" y="753.9" font-size="19.5" text-anchor="start" fill="#262626" font-weight="normal" font-family="'Liberation Sans', sans-serif" textLength="175.5" lengthAdjust="spacingAndGlyphs" >Shank Misalignment</text>
<text x="465.7" y="780" font-size="19.5" text-anchor="start" fill="#262626" font-weight="normal" font-family="'Liberation Sans', sans-serif" textLength="168.5" lengthAdjust="spacingAndGlyphs" >Thigh Misalignment</text>
<circle cx="127.9" cy="238.5" r="62" fill="none" stroke="#1a1a1a" stroke-width="1.8"/><circle cx="127.9" cy="238.5" r="58.6" fill="none" stroke="#222" stroke-width="2"/>
<path d="M182.0,170.0 C182.8,168.9 183.6,167.8 188.0,167.5 C192.4,167.2 221.7,167.2 226.0,167.5 C230.3,167.8 230.4,169.3 231.0,171.0 C231.6,172.7 229.9,182.6 232.0,184.0 C234.1,185.4 247.7,185.3 252.0,185.5 C256.3,185.7 271.0,185.7 275.0,186.0 C279.0,186.3 290.1,187.6 292.0,189.0 C293.9,190.4 294.6,197.4 294.5,200.0 C294.4,202.6 291.1,211.5 291.0,215.0 C290.9,218.5 292.7,231.5 293.0,235.0 C293.3,238.5 294.3,247.3 294.0,250.0 C293.7,252.7 291.6,259.2 290.0,262.0 C288.4,264.8 280.8,275.2 278.0,278.0 C275.2,280.8 265.2,288.0 262.0,290.0 C258.8,292.0 253.6,297.2 246.0,298.0 C238.4,298.8 192.6,298.8 186.0,298.0 C179.4,297.2 180.8,294.8 180.0,290.0 C179.2,285.2 178.4,259.0 178.0,250.0 C177.6,241.0 176.4,206.4 176.0,200.0 C175.6,193.6 173.6,188.2 174.0,186.0 C174.4,183.8 179.2,179.6 180.0,178.0 C180.8,176.4 181.2,171.1 182.0,170.0 Z" fill="#ececec" stroke="#1e1e1e" stroke-width="1.3"/>
<path d="M36.0,190.6 C44.1,190.6 76.3,190.4 90.0,190.3 C103.7,190.2 115.0,190.1 127.0,189.9 C139.0,189.7 159.9,189.9 170.0,189.0 C180.1,188.1 188.8,185.1 194.2,184.2 C199.6,183.3 200.9,182.8 206.3,183.0 C211.7,183.2 223.3,183.8 230.5,185.4 C237.7,187.0 248.4,191.2 254.6,193.9 C260.8,196.6 267.4,200.2 271.6,203.5 C275.8,206.8 280.0,211.2 282.5,215.6 C285.0,220.0 287.4,227.5 288.5,232.6 C289.6,237.7 290.1,245.2 289.7,249.5 C289.3,253.8 287.2,258.9 286.1,261.6 C285.0,264.3 284.0,265.8 282.5,267.6 C281.0,269.4 279.1,271.5 276.4,273.7 C273.7,275.9 267.9,280.3 264.3,282.1 C260.7,283.9 256.2,285.1 252.2,285.8 C248.2,286.5 242.8,287.2 237.7,287.0 C232.6,286.8 223.1,285.8 218.4,284.5 C213.7,283.2 209.9,281.2 206.3,278.5 C202.7,275.8 197.8,269.8 194.2,266.4 C190.6,262.9 185.7,258.2 182.1,255.5 C178.5,252.8 175.6,250.2 170.0,248.3 C164.4,246.4 156.9,243.9 145.0,242.5 C133.1,241.1 107.1,239.4 90.7,238.9 C74.3,238.4 44.2,238.9 36.0,238.9 Z" fill="#ececec" stroke="none"/>
<circle cx="127.9" cy="238.5" r="62" fill="none" stroke="#6a6a6a" stroke-width="1.6"/>
<circle cx="127.9" cy="238.5" r="59" fill="none" stroke="#7a7a7a" stroke-width="1.1"/>
<circle cx="255.9" cy="238.6" r="14" fill="#f6f6f6" stroke="#1e1e1e" stroke-width="1.5"/>
<path d="M262,226 L272,221 L278,232 L268,238" fill="none" stroke="#1e1e1e" stroke-width="1.3"/>
<rect x="190" y="181" width="36.5" height="17" rx="2" fill="none" stroke="#1e1e1e" stroke-width="1.2"/>
<rect x="194" y="184" width="28" height="10" fill="none" stroke="#1e1e1e" stroke-width="1"/>
<path d="M210,179 L210,188 M207,188 Q210,192 213,188" fill="none" stroke="#1e1e1e" stroke-width="1.2"/>
<path d="M188,300 L188,258 Q201,238 214,258 L214,300" fill="none" stroke="#1e1e1e" stroke-width="1.3"/>
<rect x="196" y="268" width="10" height="16" rx="2" fill="none" stroke="#1e1e1e" stroke-width="1.3"/>
<circle cx="193.0" cy="172.1" r="4.6" fill="#f4f4f4" stroke="#1e1e1e" stroke-width="1.3"/><circle cx="193.0" cy="172.1" r="2.07" fill="none" stroke="#1e1e1e" stroke-width="1.2"/>
<circle cx="223.2" cy="172.1" r="4.6" fill="#f4f4f4" stroke="#1e1e1e" stroke-width="1.3"/><circle cx="223.2" cy="172.1" r="2.07" fill="none" stroke="#1e1e1e" stroke-width="1.2"/>
<circle cx="185.0" cy="178.9" r="4.6" fill="#f4f4f4" stroke="#1e1e1e" stroke-width="1.3"/><circle cx="185.0" cy="178.9" r="2.07" fill="none" stroke="#1e1e1e" stroke-width="1.2"/>
<circle cx="183.3" cy="197.5" r="4.6" fill="#f4f4f4" stroke="#1e1e1e" stroke-width="1.3"/><circle cx="183.3" cy="197.5" r="2.07" fill="none" stroke="#1e1e1e" stroke-width="1.2"/>
<circle cx="193.0" cy="204.7" r="4.6" fill="#f4f4f4" stroke="#1e1e1e" stroke-width="1.3"/><circle cx="193.0" cy="204.7" r="2.07" fill="none" stroke="#1e1e1e" stroke-width="1.2"/>
<circle cx="223.2" cy="204.7" r="4.6" fill="#f4f4f4" stroke="#1e1e1e" stroke-width="1.3"/><circle cx="223.2" cy="204.7" r="2.07" fill="none" stroke="#1e1e1e" stroke-width="1.2"/>
<circle cx="245.0" cy="220.5" r="4.6" fill="#f4f4f4" stroke="#1e1e1e" stroke-width="1.3"/><circle cx="245.0" cy="220.5" r="2.07" fill="none" stroke="#1e1e1e" stroke-width="1.2"/>
<circle cx="266.7" cy="220.5" r="4.6" fill="#f4f4f4" stroke="#1e1e1e" stroke-width="1.3"/><circle cx="266.7" cy="220.5" r="2.07" fill="none" stroke="#1e1e1e" stroke-width="1.2"/>
<circle cx="234.1" cy="238.6" r="4.6" fill="#f4f4f4" stroke="#1e1e1e" stroke-width="1.3"/><circle cx="234.1" cy="238.6" r="2.07" fill="none" stroke="#1e1e1e" stroke-width="1.2"/>
<circle cx="245.0" cy="258.0" r="4.6" fill="#f4f4f4" stroke="#1e1e1e" stroke-width="1.3"/><circle cx="245.0" cy="258.0" r="2.07" fill="none" stroke="#1e1e1e" stroke-width="1.2"/>
<circle cx="201.4" cy="250.7" r="4.6" fill="#f4f4f4" stroke="#1e1e1e" stroke-width="1.3"/><circle cx="201.4" cy="250.7" r="2.07" fill="none" stroke="#1e1e1e" stroke-width="1.2"/>
<circle cx="201.4" cy="265.2" r="4.6" fill="#f4f4f4" stroke="#1e1e1e" stroke-width="1.3"/><circle cx="201.4" cy="265.2" r="2.07" fill="none" stroke="#1e1e1e" stroke-width="1.2"/>
<circle cx="191.8" cy="292.5" r="4.6" fill="#f4f4f4" stroke="#1e1e1e" stroke-width="1.3"/><circle cx="191.8" cy="292.5" r="2.07" fill="none" stroke="#1e1e1e" stroke-width="1.2"/>
<circle cx="212.3" cy="292.5" r="4.6" fill="#f4f4f4" stroke="#1e1e1e" stroke-width="1.3"/><circle cx="212.3" cy="292.5" r="2.07" fill="none" stroke="#1e1e1e" stroke-width="1.2"/>
<circle cx="278.8" cy="197.5" r="6.5" fill="#f0f0f0" stroke="#1e1e1e" stroke-width="1.5"/><circle cx="278.8" cy="197.5" r="4.03" fill="none" stroke="#1e1e1e" stroke-width="1.3"/><circle cx="278.8" cy="197.5" r="1.62" fill="none" stroke="#1e1e1e" stroke-width="1.3"/>
<circle cx="231.7" cy="279.7" r="6.5" fill="#f0f0f0" stroke="#1e1e1e" stroke-width="1.5"/><circle cx="231.7" cy="279.7" r="4.03" fill="none" stroke="#1e1e1e" stroke-width="1.3"/><circle cx="231.7" cy="279.7" r="1.62" fill="none" stroke="#1e1e1e" stroke-width="1.3"/>
<circle cx="260.0" cy="198.7" r="3" fill="#f4f4f4" stroke="#1e1e1e" stroke-width="1.3"/><circle cx="260.0" cy="198.7" r="1.35" fill="none" stroke="#1e1e1e" stroke-width="1.2"/>
<circle cx="288.5" cy="197.5" r="3" fill="#f4f4f4" stroke="#1e1e1e" stroke-width="1.3"/><circle cx="288.5" cy="197.5" r="1.35" fill="none" stroke="#1e1e1e" stroke-width="1.2"/>
<circle cx="283.7" cy="245.9" r="3" fill="#f4f4f4" stroke="#1e1e1e" stroke-width="1.3"/><circle cx="283.7" cy="245.9" r="1.35" fill="none" stroke="#1e1e1e" stroke-width="1.2"/>
<circle cx="276.4" cy="258.7" r="3" fill="#f4f4f4" stroke="#1e1e1e" stroke-width="1.3"/><circle cx="276.4" cy="258.7" r="1.35" fill="none" stroke="#1e1e1e" stroke-width="1.2"/>
<circle cx="264.3" cy="266.4" r="3" fill="#f4f4f4" stroke="#1e1e1e" stroke-width="1.3"/><circle cx="264.3" cy="266.4" r="1.35" fill="none" stroke="#1e1e1e" stroke-width="1.2"/>
<path d="M273.6,394.1 C273.5,389.2 272.9,371.8 272.8,361.6 C272.7,351.4 273.0,333.1 272.8,326.0 C272.6,318.9 272.7,317.3 271.6,314.6 C270.5,311.9 267.5,309.5 265.2,308.2 C262.9,306.9 257.8,306.8 256.3,305.7 C254.8,304.6 254.7,302.9 255.1,300.6 C255.5,298.3 256.8,293.7 258.9,290.5 C261.0,287.3 266.0,282.0 269.0,279.0 C272.0,276.0 276.1,272.3 279.2,270.2 C282.3,268.1 286.0,266.3 289.4,265.1 C292.8,263.9 297.1,263.0 302.0,262.5 C306.9,262.0 315.5,262.0 322.4,262.0 C329.3,262.0 342.5,261.9 347.8,262.5 C353.1,263.1 355.6,264.4 357.9,266.3 C360.2,268.2 362.4,271.6 363.0,275.2 C363.6,278.8 362.8,284.4 361.7,290.5 C360.6,296.6 357.5,308.3 355.4,315.9 C353.3,323.5 349.7,333.7 347.8,341.3 C345.9,348.9 344.0,358.9 342.7,366.7 C341.4,374.5 339.5,389.3 338.9,393.3 Z" fill="#ececec" stroke="none"/>
<path d="M256,305 Q250,318 262,326 L272,326" fill="#ececec" stroke="#1e1e1e" stroke-width="1.3"/>
<circle cx="266.5" cy="318.4" r="6" fill="#f0f0f0" stroke="#1e1e1e" stroke-width="1.5"/><circle cx="266.5" cy="318.4" r="3.72" fill="none" stroke="#1e1e1e" stroke-width="1.3"/><circle cx="266.5" cy="318.4" r="1.50" fill="none" stroke="#1e1e1e" stroke-width="1.3"/>
<rect x="294.8" y="327.1" width="28.6" height="17.1" fill="#ececec" stroke="#555" stroke-width="1.5"/><line x1="294.8" y1="329.4" x2="323.3" y2="329.4" stroke="#555" stroke-width="1.2"/><rect x="280.5" y="324.8" width="14.3" height="22.8" rx="1.5" fill="#ececec" stroke="#555" stroke-width="1.5"/><rect x="323.3" y="324.8" width="14.3" height="22.8" rx="1.5" fill="#ececec" stroke="#555" stroke-width="1.5"/><line x1="280.5" y1="331.0" x2="294.8" y2="331.0" stroke="#555" stroke-width="1.2"/><line x1="323.3" y1="331.0" x2="337.6" y2="331.0" stroke="#555" stroke-width="1.2"/>
<circle cx="309" cy="291.8" r="15" fill="#ececec" stroke="#1e1e1e" stroke-width="1.5"/><circle cx="309" cy="291.8" r="12.0" fill="none" stroke="#1e1e1e" stroke-width="1.1"/><circle cx="309" cy="291.8" r="9.3" fill="none" stroke="#1e1e1e" stroke-width="1.1"/><circle cx="309" cy="291.8" r="6.8" fill="none" stroke="#1e1e1e" stroke-width="1.1"/><circle cx="309" cy="291.8" r="4.2" fill="none" stroke="#1e1e1e" stroke-width="1.1"/>
<circle cx="328.5" cy="283.2" r="4.6" fill="#f4f4f4" stroke="#1e1e1e" stroke-width="1.3"/><circle cx="328.5" cy="283.2" r="2.07" fill="none" stroke="#1e1e1e" stroke-width="1.2"/>
<circle cx="328.5" cy="304.4" r="4.6" fill="#f4f4f4" stroke="#1e1e1e" stroke-width="1.3"/><circle cx="328.5" cy="304.4" r="2.07" fill="none" stroke="#1e1e1e" stroke-width="1.2"/>
<circle cx="290.8" cy="304.4" r="4.6" fill="#f4f4f4" stroke="#1e1e1e" stroke-width="1.3"/><circle cx="290.8" cy="304.4" r="2.07" fill="none" stroke="#1e1e1e" stroke-width="1.2"/>
<circle cx="309.9" cy="315.3" r="4.6" fill="#f4f4f4" stroke="#1e1e1e" stroke-width="1.3"/><circle cx="309.9" cy="315.3" r="2.07" fill="none" stroke="#1e1e1e" stroke-width="1.2"/>
<circle cx="329.8" cy="320.8" r="4.6" fill="#f4f4f4" stroke="#1e1e1e" stroke-width="1.3"/><circle cx="329.8" cy="320.8" r="2.07" fill="none" stroke="#1e1e1e" stroke-width="1.2"/>
<circle cx="351.6" cy="270.0" r="6.5" fill="#f0f0f0" stroke="#1e1e1e" stroke-width="1.5"/><circle cx="351.6" cy="270.0" r="4.03" fill="none" stroke="#1e1e1e" stroke-width="1.3"/><circle cx="351.6" cy="270.0" r="1.62" fill="none" stroke="#1e1e1e" stroke-width="1.3"/>
<circle cx="292.6" cy="270.0" r="2.6" fill="#555" stroke="#222" stroke-width="0.8"/>
<circle cx="282.7" cy="281.8" r="2.6" fill="#555" stroke="#222" stroke-width="0.8"/>
<path d="M352,280 L340,318 L330,322" fill="none" stroke="#1e1e1e" stroke-width="1.3"/>
<path d="M292.2,262.0 L295.0,255.0 L297.8,262.0" fill="#fff" stroke="#1e1e1e" stroke-width="1.1" stroke-linejoin="round"/><path d="M299.2,261.0 L302.0,254.0 L304.8,261.0" fill="#fff" stroke="#1e1e1e" stroke-width="1.1" stroke-linejoin="round"/><path d="M306.2,260.5 L309.0,253.5 L311.8,260.5" fill="#fff" stroke="#1e1e1e" stroke-width="1.1" stroke-linejoin="round"/><path d="M313.2,260.5 L316.0,253.5 L318.8,260.5" fill="#fff" stroke="#1e1e1e" stroke-width="1.1" stroke-linejoin="round"/>
<path d="M264.5,278.2 Q263.5,284.0 259.5,279.8" fill="#fff" stroke="#1e1e1e" stroke-width="0.9"/><path d="M258.5,281.2 Q257.5,287.0 253.5,282.8" fill="#fff" stroke="#1e1e1e" stroke-width="0.9"/><path d="M272.5,275.2 Q271.5,281.0 267.5,276.8" fill="#fff" stroke="#1e1e1e" stroke-width="0.9"/>
<path d="M36.0,190.6 C44.1,190.6 76.3,190.4 90.0,190.3 C103.7,190.2 115.0,190.1 127.0,189.9 C139.0,189.7 159.9,189.9 170.0,189.0 C180.1,188.1 188.8,185.1 194.2,184.2 C199.6,183.3 200.9,182.8 206.3,183.0 C211.7,183.2 223.3,183.8 230.5,185.4 C237.7,187.0 248.4,191.2 254.6,193.9 C260.8,196.6 267.4,200.2 271.6,203.5 C275.8,206.8 280.0,211.2 282.5,215.6 C285.0,220.0 287.4,227.5 288.5,232.6 C289.6,237.7 290.1,245.2 289.7,249.5 C289.3,253.8 287.2,258.9 286.1,261.6 C285.0,264.3 284.0,265.8 282.5,267.6 C281.0,269.4 277.3,272.8 276.4,273.7" fill="none" stroke="#000" stroke-width="3.2" stroke-linecap="round"/>
<path d="M276.4,273.7 C274.6,275.0 267.9,280.3 264.3,282.1 C260.7,283.9 256.2,285.1 252.2,285.8 C248.2,286.5 242.8,287.2 237.7,287.0 C232.6,286.8 223.1,285.8 218.4,284.5 C213.7,283.2 209.9,281.2 206.3,278.5 C202.7,275.8 197.8,269.8 194.2,266.4 C190.6,262.9 185.7,258.2 182.1,255.5 C178.5,252.8 175.6,250.2 170.0,248.3 C164.4,246.4 156.9,243.9 145.0,242.5 C133.1,241.1 107.1,239.4 90.7,238.9 C74.3,238.4 44.2,238.9 36.0,238.9" fill="none" stroke="#000" stroke-width="3.2" stroke-linecap="round"/>
<path d="M273.6,394.1 C273.5,389.2 272.9,371.8 272.8,361.6 C272.7,351.4 273.0,333.1 272.8,326.0 C272.6,318.9 272.7,317.3 271.6,314.6 C270.5,311.9 267.5,309.5 265.2,308.2 C262.9,306.9 257.8,306.8 256.3,305.7 C254.8,304.6 254.7,302.9 255.1,300.6 C255.5,298.3 256.8,293.7 258.9,290.5 C261.0,287.3 266.0,282.0 269.0,279.0 C272.0,276.0 276.1,272.3 279.2,270.2 C282.3,268.1 286.0,266.3 289.4,265.1 C292.8,263.9 297.1,263.0 302.0,262.5 C306.9,262.0 315.5,262.0 322.4,262.0 C329.3,262.0 342.5,261.9 347.8,262.5 C353.1,263.1 355.6,264.4 357.9,266.3 C360.2,268.2 362.4,271.6 363.0,275.2 C363.6,278.8 362.8,284.4 361.7,290.5 C360.6,296.6 357.5,308.3 355.4,315.9 C353.3,323.5 349.7,333.7 347.8,341.3 C345.9,348.9 344.0,358.9 342.7,366.7 C341.4,374.5 339.5,389.3 338.9,393.3" fill="none" stroke="#000" stroke-width="3.2" stroke-linecap="round"/>
<path d="M177.6,333.6 L205.6,333.6 L276.7,274" fill="none" stroke="#000" stroke-width="1.6"/>
<circle cx="282.5" cy="268.3" r="7.6" fill="#c8101c" stroke="#6a1a3a" stroke-width="0.8"/>
<path d="M400.0,131.6 C400.2,131.3 407.6,144.6 408.7,145.4 C409.8,146.2 413.1,142.6 414.5,141.8 C415.9,141.0 426.0,134.9 427.6,134.5 C429.2,134.1 433.8,134.8 436.3,136.0 C438.8,137.2 458.8,148.7 460.9,150.5 C463.0,152.3 463.7,159.2 463.8,160.6 C463.9,162.0 462.2,168.0 462.4,169.3 C462.6,170.6 465.3,176.6 466.7,178.0 C468.1,179.4 478.7,186.8 481.3,188.2 C483.9,189.6 499.5,195.5 501.6,196.9 C503.7,198.3 508.8,205.6 508.8,207.1 C508.8,208.6 502.7,215.2 501.6,217.2 C500.5,219.2 495.4,231.2 494.3,233.2 C493.2,235.2 488.3,241.9 487.1,243.3 C485.9,244.7 479.7,250.9 478.0,252.0 C476.3,253.1 466.7,257.2 465.0,258.0 C463.3,258.8 457.7,262.2 455.1,262.5 C452.5,262.8 433.3,262.0 430.0,262.0 C426.7,262.0 413.2,263.4 410.6,263.1 C408.0,262.8 397.8,258.8 395.3,257.9 C392.8,257.0 380.1,252.9 376.7,251.0 C373.3,249.1 350.4,234.5 350.0,232.5 C349.6,230.5 368.9,226.1 372.0,224.0 C375.1,221.9 389.6,208.3 392.0,205.0 C394.4,201.7 402.9,184.1 404.0,180.0 C405.1,175.9 406.3,153.6 406.0,150.0 C405.7,146.4 399.8,131.9 400.0,131.6 Z" fill="#fff" stroke="#1e1e1e" stroke-width="1.4"/>
<circle cx="348.5" cy="167" r="61" fill="none" stroke="#1a1a1a" stroke-width="1.8"/><circle cx="348.5" cy="167" r="57.6" fill="none" stroke="#222" stroke-width="2"/>
<circle cx="454.8" cy="228.8" r="13.3" fill="#fff" stroke="#1e1e1e" stroke-width="1.8"/>
<circle cx="454.8" cy="228.8" r="11.4" fill="none" stroke="#1e1e1e" stroke-width="0.9"/>
<rect x="468.2" y="221.6" width="8.7" height="14.5" fill="#fff" stroke="#1e1e1e" stroke-width="1.3"/>
<rect x="-16" y="-6.7" width="32" height="13.4" rx="3" transform="translate(439.7,163) rotate(33)" fill="none" stroke="#1e1e1e" stroke-width="1.4"/>
<rect x="-12" y="-4" width="24" height="8" rx="2" transform="translate(439.7,163) rotate(33)" fill="none" stroke="#1e1e1e" stroke-width="1"/>
<path d="M437,165 L441,158 M436,166 L441,166" fill="none" stroke="#1e1e1e" stroke-width="1.6"/>
<rect x="-6" y="-13" width="12" height="26" rx="5" transform="translate(392.6,232.5) rotate(20)" fill="none" stroke="#1e1e1e" stroke-width="1.3"/>
<path d="M387,230 L397,226 M388,234 L398,230 M389,238 L399,234" fill="none" stroke="#1e1e1e" stroke-width="1.1"/>
<path d="M409.9,214.3 Q412,228 409.9,236 L398,254.2" fill="none" stroke="#1e1e1e" stroke-width="1.2"/>
<path d="M380,220 Q392,208 405,212" fill="none" stroke="#1e1e1e" stroke-width="1.2"/>
<circle cx="425.4" cy="143.9" r="4.2" fill="#f4f4f4" stroke="#1e1e1e" stroke-width="1.3"/><circle cx="425.4" cy="143.9" r="1.89" fill="none" stroke="#1e1e1e" stroke-width="1.2"/>
<circle cx="434.8" cy="141.8" r="4.2" fill="#f4f4f4" stroke="#1e1e1e" stroke-width="1.3"/><circle cx="434.8" cy="141.8" r="1.89" fill="none" stroke="#1e1e1e" stroke-width="1.2"/>
<circle cx="415.2" cy="158.5" r="4.2" fill="#f4f4f4" stroke="#1e1e1e" stroke-width="1.3"/><circle cx="415.2" cy="158.5" r="1.89" fill="none" stroke="#1e1e1e" stroke-width="1.2"/>
<circle cx="418.9" cy="169.3" r="4.2" fill="#f4f4f4" stroke="#1e1e1e" stroke-width="1.3"/><circle cx="418.9" cy="169.3" r="1.89" fill="none" stroke="#1e1e1e" stroke-width="1.2"/>
<circle cx="460.9" cy="157.0" r="4.2" fill="#f4f4f4" stroke="#1e1e1e" stroke-width="1.3"/><circle cx="460.9" cy="157.0" r="1.89" fill="none" stroke="#1e1e1e" stroke-width="1.2"/>
<circle cx="445.0" cy="183.8" r="4.2" fill="#f4f4f4" stroke="#1e1e1e" stroke-width="1.3"/><circle cx="445.0" cy="183.8" r="1.89" fill="none" stroke="#1e1e1e" stroke-width="1.2"/>
<circle cx="479.1" cy="196.9" r="4.2" fill="#f4f4f4" stroke="#1e1e1e" stroke-width="1.3"/><circle cx="479.1" cy="196.9" r="1.89" fill="none" stroke="#1e1e1e" stroke-width="1.2"/>
<circle cx="454.8" cy="207.8" r="4.2" fill="#f4f4f4" stroke="#1e1e1e" stroke-width="1.3"/><circle cx="454.8" cy="207.8" r="1.89" fill="none" stroke="#1e1e1e" stroke-width="1.2"/>
<circle cx="437.0" cy="218.7" r="4.2" fill="#f4f4f4" stroke="#1e1e1e" stroke-width="1.3"/><circle cx="437.0" cy="218.7" r="1.89" fill="none" stroke="#1e1e1e" stroke-width="1.2"/>
<circle cx="473.3" cy="218.7" r="4.2" fill="#f4f4f4" stroke="#1e1e1e" stroke-width="1.3"/><circle cx="473.3" cy="218.7" r="1.89" fill="none" stroke="#1e1e1e" stroke-width="1.2"/>
<circle cx="437.0" cy="239.0" r="4.2" fill="#f4f4f4" stroke="#1e1e1e" stroke-width="1.3"/><circle cx="437.0" cy="239.0" r="1.89" fill="none" stroke="#1e1e1e" stroke-width="1.2"/>
<circle cx="404.4" cy="212.5" r="4.2" fill="#f4f4f4" stroke="#1e1e1e" stroke-width="1.3"/><circle cx="404.4" cy="212.5" r="1.89" fill="none" stroke="#1e1e1e" stroke-width="1.2"/>
<circle cx="375.4" cy="242.4" r="4.2" fill="#f4f4f4" stroke="#1e1e1e" stroke-width="1.3"/><circle cx="375.4" cy="242.4" r="1.89" fill="none" stroke="#1e1e1e" stroke-width="1.2"/>
<circle cx="393.5" cy="252.4" r="4.2" fill="#f4f4f4" stroke="#1e1e1e" stroke-width="1.3"/><circle cx="393.5" cy="252.4" r="1.89" fill="none" stroke="#1e1e1e" stroke-width="1.2"/>
<circle cx="495.0" cy="206.3" r="6.5" fill="#f0f0f0" stroke="#1e1e1e" stroke-width="1.5"/><circle cx="495.0" cy="206.3" r="4.03" fill="none" stroke="#1e1e1e" stroke-width="1.3"/><circle cx="495.0" cy="206.3" r="1.62" fill="none" stroke="#1e1e1e" stroke-width="1.3"/>
<circle cx="415.2" cy="251.3" r="7" fill="#f0f0f0" stroke="#1e1e1e" stroke-width="1.5"/><circle cx="415.2" cy="251.3" r="4.34" fill="none" stroke="#1e1e1e" stroke-width="1.3"/><circle cx="415.2" cy="251.3" r="1.75" fill="none" stroke="#1e1e1e" stroke-width="1.3"/>
<circle cx="437.0" cy="224.0" r="1.8" fill="#555" stroke="#222" stroke-width="0.8"/>
<circle cx="437.0" cy="229.0" r="1.8" fill="#555" stroke="#222" stroke-width="0.8"/>
<circle cx="437.0" cy="234.0" r="1.8" fill="#555" stroke="#222" stroke-width="0.8"/>
<circle cx="449.3" cy="256.4" r="2.8" fill="#555" stroke="#222" stroke-width="0.8"/>
<circle cx="463.1" cy="255.7" r="2.8" fill="#555" stroke="#222" stroke-width="0.8"/>
<circle cx="475.5" cy="248.4" r="2.8" fill="#555" stroke="#222" stroke-width="0.8"/>
<circle cx="487.8" cy="265.1" r="2.8" fill="#555" stroke="#222" stroke-width="0.8"/>
<circle cx="487.0" cy="202.0" r="2.8" fill="#555" stroke="#222" stroke-width="0.8"/>
<circle cx="503.0" cy="210.7" r="2.8" fill="#555" stroke="#222" stroke-width="0.8"/>
<path d="M464.6,266.0 C466.9,264.5 485.8,260.1 490.0,259.5 C494.2,258.9 511.1,258.6 515.0,258.5 C518.9,258.4 534.0,257.8 536.3,258.3 C538.5,258.8 541.4,262.8 542.0,264.0 C542.6,265.2 543.7,270.1 543.6,272.8 C543.5,275.6 542.3,293.9 541.2,297.0 C540.1,300.1 532.3,308.0 530.8,310.0 C529.3,312.0 526.1,319.8 523.5,321.0 C520.9,322.2 504.5,323.7 500.0,324.0 C495.5,324.3 473.4,324.3 470.0,324.4 C466.6,324.5 460.5,324.8 458.6,325.0 C456.7,325.2 449.3,327.8 447.7,327.4 C446.1,327.0 440.0,321.3 439.2,320.1 C438.4,318.9 437.6,314.3 438.0,312.9 C438.4,311.5 442.9,304.7 444.1,303.2 C445.3,301.7 451.3,296.2 452.6,294.7 C453.9,293.2 459.2,286.4 460.0,285.0 C460.8,283.6 461.8,279.4 462.2,277.8 C462.6,276.2 462.3,267.5 464.6,266.0 Z" fill="#fff" stroke="#1e1e1e" stroke-width="1.5"/>
<rect x="478.3" y="325.8" width="29.0" height="16.3" fill="#fff" stroke="#1e1e1e" stroke-width="1.5"/><line x1="478.3" y1="328.0" x2="507.3" y2="328.0" stroke="#1e1e1e" stroke-width="1.2"/><rect x="463.8" y="323.6" width="14.5" height="21.8" rx="1.5" fill="#fff" stroke="#1e1e1e" stroke-width="1.5"/><rect x="507.3" y="323.6" width="14.5" height="21.8" rx="1.5" fill="#fff" stroke="#1e1e1e" stroke-width="1.5"/><line x1="463.8" y1="329.5" x2="478.3" y2="329.5" stroke="#1e1e1e" stroke-width="1.2"/><line x1="507.3" y1="329.5" x2="521.8" y2="329.5" stroke="#1e1e1e" stroke-width="1.2"/>
<circle cx="490.4" cy="290" r="15" fill="#ececec" stroke="#1e1e1e" stroke-width="1.5"/><circle cx="490.4" cy="290" r="12.0" fill="none" stroke="#1e1e1e" stroke-width="1.1"/><circle cx="490.4" cy="290" r="9.3" fill="none" stroke="#1e1e1e" stroke-width="1.1"/><circle cx="490.4" cy="290" r="6.8" fill="none" stroke="#1e1e1e" stroke-width="1.1"/><circle cx="490.4" cy="290" r="4.2" fill="none" stroke="#1e1e1e" stroke-width="1.1"/>
<circle cx="510.0" cy="275.0" r="4.2" fill="#f4f4f4" stroke="#1e1e1e" stroke-width="1.3"/><circle cx="510.0" cy="275.0" r="1.89" fill="none" stroke="#1e1e1e" stroke-width="1.2"/>
<circle cx="470.0" cy="302.0" r="4.2" fill="#f4f4f4" stroke="#1e1e1e" stroke-width="1.3"/><circle cx="470.0" cy="302.0" r="1.89" fill="none" stroke="#1e1e1e" stroke-width="1.2"/>
<circle cx="510.0" cy="304.0" r="4.2" fill="#f4f4f4" stroke="#1e1e1e" stroke-width="1.3"/><circle cx="510.0" cy="304.0" r="1.89" fill="none" stroke="#1e1e1e" stroke-width="1.2"/>
<circle cx="490.0" cy="313.0" r="4.2" fill="#f4f4f4" stroke="#1e1e1e" stroke-width="1.3"/><circle cx="490.0" cy="313.0" r="1.89" fill="none" stroke="#1e1e1e" stroke-width="1.2"/>
<circle cx="528.0" cy="268.0" r="4.2" fill="#f4f4f4" stroke="#1e1e1e" stroke-width="1.3"/><circle cx="528.0" cy="268.0" r="1.89" fill="none" stroke="#1e1e1e" stroke-width="1.2"/>
<circle cx="528.0" cy="278.0" r="4.2" fill="#f4f4f4" stroke="#1e1e1e" stroke-width="1.3"/><circle cx="528.0" cy="278.0" r="1.89" fill="none" stroke="#1e1e1e" stroke-width="1.2"/>
<circle cx="466.5" cy="280.8" r="2.8" fill="#555" stroke="#222" stroke-width="0.8"/>
<circle cx="452.2" cy="315.9" r="7.8" fill="#f0f0f0" stroke="#1e1e1e" stroke-width="1.5"/><circle cx="452.2" cy="315.9" r="4.84" fill="none" stroke="#1e1e1e" stroke-width="1.3"/><circle cx="452.2" cy="315.9" r="1.95" fill="none" stroke="#1e1e1e" stroke-width="1.3"/>
<path d="M535,280 L525,305 L515,315" fill="none" stroke="#1e1e1e" stroke-width="1.1"/>
<path d="M478.5,259.5 L481.0,253.5 L483.5,259.5" fill="#fff" stroke="#1e1e1e" stroke-width="1.1" stroke-linejoin="round"/><path d="M486.5,259.0 L489.0,253.0 L491.5,259.0" fill="#fff" stroke="#1e1e1e" stroke-width="1.1" stroke-linejoin="round"/><path d="M494.5,258.7 L497.0,252.7 L499.5,258.7" fill="#fff" stroke="#1e1e1e" stroke-width="1.1" stroke-linejoin="round"/><path d="M502.5,258.5 L505.0,252.5 L507.5,258.5" fill="#fff" stroke="#1e1e1e" stroke-width="1.1" stroke-linejoin="round"/><path d="M510.5,258.5 L513.0,252.5 L515.5,258.5" fill="#fff" stroke="#1e1e1e" stroke-width="1.1" stroke-linejoin="round"/><path d="M518.5,258.5 L521.0,252.5 L523.5,258.5" fill="#fff" stroke="#1e1e1e" stroke-width="1.1" stroke-linejoin="round"/>
<path d="M457.5,262.0 L455.0,268.0 L452.5,262.0" fill="#fff" stroke="#1e1e1e" stroke-width="1.1" stroke-linejoin="round"/><path d="M449.5,262.0 L447.0,268.0 L444.5,262.0" fill="#fff" stroke="#1e1e1e" stroke-width="1.1" stroke-linejoin="round"/><path d="M441.5,261.5 L439.0,267.5 L436.5,261.5" fill="#fff" stroke="#1e1e1e" stroke-width="1.1" stroke-linejoin="round"/><path d="M433.5,262.0 L431.0,268.0 L428.5,262.0" fill="#fff" stroke="#1e1e1e" stroke-width="1.1" stroke-linejoin="round"/>
<path d="M461.0,275.5 L455.5,273.0 L461.0,270.5" fill="#fff" stroke="#1e1e1e" stroke-width="1.1" stroke-linejoin="round"/><path d="M459.2,282.5 L453.5,280.6 L458.8,277.5" fill="#fff" stroke="#1e1e1e" stroke-width="1.1" stroke-linejoin="round"/>
<circle cx="471.7" cy="264.6" r="7.4" fill="#c8101c" stroke="#6a1a3a" stroke-width="0.8"/>
<path d="M394.5,355.2 L429.6,278.8 L457.4,278.8" fill="none" stroke="#000" stroke-width="1.5"/>
<path d="M599.2,125.3 C600.6,123.7 602.6,130.9 603.5,131.1 C604.4,131.3 609.5,128.5 610.8,128.2 C612.1,127.9 619.7,127.3 620.9,127.5 C622.1,127.7 625.0,128.3 626.7,131.1 C628.4,133.9 643.1,161.5 644.2,164.5 C645.3,167.5 642.1,170.6 641.3,171.7 C640.5,172.8 634.4,177.9 634.0,179.0 C633.6,180.1 635.0,184.7 635.5,186.2 C636.0,187.7 639.9,197.2 641.3,199.3 C642.7,201.4 653.0,212.7 654.1,214.6 C655.2,216.5 656.7,222.8 656.5,224.3 C656.3,225.8 653.3,232.5 651.7,234.0 C650.1,235.5 637.3,242.3 634.8,243.7 C632.3,245.1 620.3,252.4 617.8,253.3 C615.3,254.2 603.6,256.0 600.9,255.8 C598.2,255.6 584.7,252.0 581.6,250.9 C578.5,249.8 562.7,242.5 559.8,241.2 C556.9,239.9 544.7,235.1 542.9,234.0 C541.1,232.9 537.2,229.1 535.6,226.7 C534.0,224.3 522.9,205.7 521.1,202.6 C519.3,199.5 512.8,188.0 511.4,185.6 C510.0,183.2 500.4,171.7 501.8,171.1 C503.2,170.5 525.6,178.0 530.0,178.0 C534.4,178.0 555.9,173.6 560.0,171.7 C564.1,169.8 582.1,155.5 585.0,152.0 C587.9,148.5 597.8,126.9 599.2,125.3 Z" fill="#fff" stroke="#1e1e1e" stroke-width="1.4"/>
<circle cx="536.4" cy="117.4" r="61.8" fill="none" stroke="#1a1a1a" stroke-width="1.8"/><circle cx="536.4" cy="117.4" r="58.4" fill="none" stroke="#222" stroke-width="2"/>
<circle cx="598.5" cy="223.1" r="14" fill="#fff" stroke="#1e1e1e" stroke-width="1.8"/>
<circle cx="598.5" cy="223.1" r="12" fill="none" stroke="#1e1e1e" stroke-width="0.9"/>
<rect x="-5" y="-5" width="10" height="10" transform="translate(616.6,235.2) rotate(-30)" fill="#fff" stroke="#1e1e1e" stroke-width="1.3"/>
<rect x="-17.4" y="-5.5" width="34.8" height="11" rx="3" transform="translate(618,160) rotate(54.3)" fill="none" stroke="#1e1e1e" stroke-width="1.4"/>
<rect x="-13" y="-3.5" width="26" height="7" rx="2" transform="translate(618,160) rotate(54.3)" fill="none" stroke="#1e1e1e" stroke-width="1"/>
<path d="M617,161 L627,158 M617,161 L617,164" fill="none" stroke="#1e1e1e" stroke-width="1.6"/>
<rect x="-11" y="-5.5" width="22" height="11" rx="4" transform="translate(539.2,197.7) rotate(-25)" fill="none" stroke="#1e1e1e" stroke-width="1.4"/>
<path d="M533,196 L535,201 M537,194 L539,199 M541,192 L543,197" fill="none" stroke="#1e1e1e" stroke-width="1.1"/>
<path d="M522,190 Q545,182 560,186 L568,196" fill="none" stroke="#1e1e1e" stroke-width="1.1"/>
<circle cx="615.9" cy="134.7" r="4.2" fill="#f4f4f4" stroke="#1e1e1e" stroke-width="1.3"/><circle cx="615.9" cy="134.7" r="1.89" fill="none" stroke="#1e1e1e" stroke-width="1.2"/>
<circle cx="624.6" cy="138.4" r="4.2" fill="#f4f4f4" stroke="#1e1e1e" stroke-width="1.3"/><circle cx="624.6" cy="138.4" r="1.89" fill="none" stroke="#1e1e1e" stroke-width="1.2"/>
<circle cx="599.2" cy="142.7" r="4.2" fill="#f4f4f4" stroke="#1e1e1e" stroke-width="1.3"/><circle cx="599.2" cy="142.7" r="1.89" fill="none" stroke="#1e1e1e" stroke-width="1.2"/>
<circle cx="597.0" cy="154.3" r="4.2" fill="#f4f4f4" stroke="#1e1e1e" stroke-width="1.3"/><circle cx="597.0" cy="154.3" r="1.89" fill="none" stroke="#1e1e1e" stroke-width="1.2"/>
<circle cx="639.8" cy="164.5" r="4.2" fill="#f4f4f4" stroke="#1e1e1e" stroke-width="1.3"/><circle cx="639.8" cy="164.5" r="1.89" fill="none" stroke="#1e1e1e" stroke-width="1.2"/>
<circle cx="612.2" cy="180.4" r="4.2" fill="#f4f4f4" stroke="#1e1e1e" stroke-width="1.3"/><circle cx="612.2" cy="180.4" r="1.89" fill="none" stroke="#1e1e1e" stroke-width="1.2"/>
<circle cx="562.9" cy="184.1" r="4.2" fill="#f4f4f4" stroke="#1e1e1e" stroke-width="1.3"/><circle cx="562.9" cy="184.1" r="1.89" fill="none" stroke="#1e1e1e" stroke-width="1.2"/>
<circle cx="522.3" cy="196.5" r="4.2" fill="#f4f4f4" stroke="#1e1e1e" stroke-width="1.3"/><circle cx="522.3" cy="196.5" r="1.89" fill="none" stroke="#1e1e1e" stroke-width="1.2"/>
<circle cx="532.0" cy="214.6" r="4.2" fill="#f4f4f4" stroke="#1e1e1e" stroke-width="1.3"/><circle cx="532.0" cy="214.6" r="1.89" fill="none" stroke="#1e1e1e" stroke-width="1.2"/>
<circle cx="587.6" cy="206.9" r="4.2" fill="#f4f4f4" stroke="#1e1e1e" stroke-width="1.3"/><circle cx="587.6" cy="206.9" r="1.89" fill="none" stroke="#1e1e1e" stroke-width="1.2"/>
<circle cx="608.2" cy="206.9" r="4.2" fill="#f4f4f4" stroke="#1e1e1e" stroke-width="1.3"/><circle cx="608.2" cy="206.9" r="1.89" fill="none" stroke="#1e1e1e" stroke-width="1.2"/>
<circle cx="576.7" cy="224.3" r="4.2" fill="#f4f4f4" stroke="#1e1e1e" stroke-width="1.3"/><circle cx="576.7" cy="224.3" r="1.89" fill="none" stroke="#1e1e1e" stroke-width="1.2"/>
<circle cx="619.0" cy="224.3" r="4.2" fill="#f4f4f4" stroke="#1e1e1e" stroke-width="1.3"/><circle cx="619.0" cy="224.3" r="1.89" fill="none" stroke="#1e1e1e" stroke-width="1.2"/>
<circle cx="634.8" cy="208.6" r="4.2" fill="#f4f4f4" stroke="#1e1e1e" stroke-width="1.3"/><circle cx="634.8" cy="208.6" r="1.89" fill="none" stroke="#1e1e1e" stroke-width="1.2"/>
<circle cx="551.3" cy="225.5" r="7" fill="#f0f0f0" stroke="#1e1e1e" stroke-width="1.5"/><circle cx="551.3" cy="225.5" r="4.34" fill="none" stroke="#1e1e1e" stroke-width="1.3"/><circle cx="551.3" cy="225.5" r="1.75" fill="none" stroke="#1e1e1e" stroke-width="1.3"/>
<circle cx="644.4" cy="224.3" r="7" fill="#f0f0f0" stroke="#1e1e1e" stroke-width="1.5"/><circle cx="644.4" cy="224.3" r="4.34" fill="none" stroke="#1e1e1e" stroke-width="1.3"/><circle cx="644.4" cy="224.3" r="1.75" fill="none" stroke="#1e1e1e" stroke-width="1.3"/>
<circle cx="583.0" cy="216.0" r="1.8" fill="#555" stroke="#222" stroke-width="0.8"/>
<circle cx="583.0" cy="221.0" r="1.8" fill="#555" stroke="#222" stroke-width="0.8"/>
<circle cx="584.0" cy="226.0" r="1.8" fill="#555" stroke="#222" stroke-width="0.8"/>
<circle cx="579.2" cy="246.1" r="2.8" fill="#555" stroke="#222" stroke-width="0.8"/>
<circle cx="591.2" cy="252.1" r="2.8" fill="#555" stroke="#222" stroke-width="0.8"/>
<circle cx="605.3" cy="250.4" r="2.8" fill="#555" stroke="#222" stroke-width="0.8"/>
<circle cx="640.0" cy="216.0" r="2.8" fill="#555" stroke="#222" stroke-width="0.8"/>
<circle cx="638.0" cy="221.0" r="2.8" fill="#555" stroke="#222" stroke-width="0.8"/>
<path d="M602.9,264.5 C605.0,263.8 615.7,263.2 618.8,263.0 C621.9,262.8 636.2,261.7 640.0,261.5 C643.8,261.3 661.8,259.3 663.8,260.2 C665.8,261.1 664.5,270.1 664.5,272.0 C664.5,273.9 664.5,281.3 663.8,283.4 C663.1,285.5 657.3,294.7 656.0,297.0 C654.7,299.3 648.9,308.6 647.9,311.0 C646.9,313.4 645.4,324.2 643.5,325.5 C641.6,326.8 629.2,326.8 625.1,327.0 C621.0,327.2 597.5,327.8 593.7,328.0 C589.9,328.2 582.0,329.2 579.7,329.0 C577.4,328.8 567.9,326.6 566.6,325.5 C565.3,324.4 563.4,317.2 563.7,315.3 C564.0,313.4 568.9,304.9 570.0,303.0 C571.1,301.1 575.5,293.8 576.8,292.0 C578.0,290.2 583.6,282.8 585.0,281.0 C586.4,279.2 592.5,272.4 594.0,271.0 C595.5,269.6 600.8,265.2 602.9,264.5 Z" fill="#fff" stroke="#1e1e1e" stroke-width="1.5"/>
<rect x="603.4" y="330.6" width="28.6" height="16.3" fill="#fff" stroke="#1e1e1e" stroke-width="1.5"/><line x1="603.4" y1="332.7" x2="632.1" y2="332.7" stroke="#1e1e1e" stroke-width="1.2"/><rect x="589.1" y="328.4" width="14.3" height="21.7" rx="1.5" fill="#fff" stroke="#1e1e1e" stroke-width="1.5"/><rect x="632.1" y="328.4" width="14.3" height="21.7" rx="1.5" fill="#fff" stroke="#1e1e1e" stroke-width="1.5"/><line x1="589.1" y1="334.3" x2="603.4" y2="334.3" stroke="#1e1e1e" stroke-width="1.2"/><line x1="632.1" y1="334.3" x2="646.4" y2="334.3" stroke="#1e1e1e" stroke-width="1.2"/>
<circle cx="617.4" cy="296.9" r="15" fill="#ececec" stroke="#1e1e1e" stroke-width="1.5"/><circle cx="617.4" cy="296.9" r="12.0" fill="none" stroke="#1e1e1e" stroke-width="1.1"/><circle cx="617.4" cy="296.9" r="9.3" fill="none" stroke="#1e1e1e" stroke-width="1.1"/><circle cx="617.4" cy="296.9" r="6.8" fill="none" stroke="#1e1e1e" stroke-width="1.1"/><circle cx="617.4" cy="296.9" r="4.2" fill="none" stroke="#1e1e1e" stroke-width="1.1"/>
<circle cx="636.0" cy="286.0" r="4.2" fill="#f4f4f4" stroke="#1e1e1e" stroke-width="1.3"/><circle cx="636.0" cy="286.0" r="1.89" fill="none" stroke="#1e1e1e" stroke-width="1.2"/>
<circle cx="636.0" cy="307.8" r="4.2" fill="#f4f4f4" stroke="#1e1e1e" stroke-width="1.3"/><circle cx="636.0" cy="307.8" r="1.89" fill="none" stroke="#1e1e1e" stroke-width="1.2"/>
<circle cx="599.7" cy="307.8" r="4.2" fill="#f4f4f4" stroke="#1e1e1e" stroke-width="1.3"/><circle cx="599.7" cy="307.8" r="1.89" fill="none" stroke="#1e1e1e" stroke-width="1.2"/>
<circle cx="616.6" cy="317.4" r="4.2" fill="#f4f4f4" stroke="#1e1e1e" stroke-width="1.3"/><circle cx="616.6" cy="317.4" r="1.89" fill="none" stroke="#1e1e1e" stroke-width="1.2"/>
<circle cx="637.2" cy="322.3" r="4.2" fill="#f4f4f4" stroke="#1e1e1e" stroke-width="1.3"/><circle cx="637.2" cy="322.3" r="1.89" fill="none" stroke="#1e1e1e" stroke-width="1.2"/>
<circle cx="660.0" cy="283.0" r="4.2" fill="#f4f4f4" stroke="#1e1e1e" stroke-width="1.3"/><circle cx="660.0" cy="283.0" r="1.89" fill="none" stroke="#1e1e1e" stroke-width="1.2"/>
<circle cx="657.8" cy="272.7" r="6" fill="#f0f0f0" stroke="#1e1e1e" stroke-width="1.5"/><circle cx="657.8" cy="272.7" r="3.72" fill="none" stroke="#1e1e1e" stroke-width="1.3"/><circle cx="657.8" cy="272.7" r="1.50" fill="none" stroke="#1e1e1e" stroke-width="1.3"/>
<circle cx="577.0" cy="319.5" r="7.5" fill="#f0f0f0" stroke="#1e1e1e" stroke-width="1.5"/><circle cx="577.0" cy="319.5" r="4.65" fill="none" stroke="#1e1e1e" stroke-width="1.3"/><circle cx="577.0" cy="319.5" r="1.88" fill="none" stroke="#1e1e1e" stroke-width="1.3"/>
<path d="M660,290 L650,312 L640,320" fill="none" stroke="#1e1e1e" stroke-width="1.1"/>
<path d="M596.1,270.9 L593.5,264.4 L599.9,267.1" fill="#fff" stroke="#1e1e1e" stroke-width="1.1" stroke-linejoin="round"/><path d="M591.2,277.1 L588.1,270.8 L594.8,272.9" fill="#fff" stroke="#1e1e1e" stroke-width="1.1" stroke-linejoin="round"/><path d="M586.4,283.2 L582.8,277.1 L589.6,278.8" fill="#fff" stroke="#1e1e1e" stroke-width="1.1" stroke-linejoin="round"/><path d="M582.1,289.8 L578.0,284.2 L584.9,285.2" fill="#fff" stroke="#1e1e1e" stroke-width="1.1" stroke-linejoin="round"/><path d="M578.9,296.5 L574.1,291.4 L581.1,291.5" fill="#fff" stroke="#1e1e1e" stroke-width="1.1" stroke-linejoin="round"/>
<circle cx="600.4" cy="273.9" r="2.8" fill="#555" stroke="#222" stroke-width="0.8"/>
<circle cx="591.7" cy="284.3" r="2.8" fill="#555" stroke="#222" stroke-width="0.8"/>
<circle cx="613.8" cy="268.9" r="2.8" fill="#555" stroke="#222" stroke-width="0.8"/>
<path d="M570.7,242.3 L569.6,249.3 L565.3,243.7" fill="#fff" stroke="#1e1e1e" stroke-width="1.1" stroke-linejoin="round"/><path d="M577.7,245.8 L576.6,252.8 L572.3,247.2" fill="#fff" stroke="#1e1e1e" stroke-width="1.1" stroke-linejoin="round"/><path d="M584.7,248.9 L583.3,255.9 L579.3,250.1" fill="#fff" stroke="#1e1e1e" stroke-width="1.1" stroke-linejoin="round"/><path d="M591.7,251.6 L590.0,258.4 L586.3,252.4" fill="#fff" stroke="#1e1e1e" stroke-width="1.1" stroke-linejoin="round"/><path d="M598.8,253.7 L596.6,260.5 L593.2,254.3" fill="#fff" stroke="#1e1e1e" stroke-width="1.1" stroke-linejoin="round"/>
<circle cx="610.6" cy="258.2" r="8" fill="#c8101c" stroke="#6a1a3a" stroke-width="0.8"/>
<path d="M681.0,155.0 L681.0,238.0 L688.0,244.0 L692.0,252.0 L695.0,258.0 L684.0,288.0 L680.0,300.0 L684.0,318.0 L697.0,325.0 L760.0,330.0 L788.0,322.0 L792.0,290.0 L790.0,262.0 L800.0,252.0 L806.0,240.0 L808.0,205.0 L810.0,180.0 L810.0,140.0 L795.0,130.0 L790.0,160.0 L700.0,158.0 Z" fill="#ececec" stroke="#1e1e1e" stroke-width="1.3"/>
<path d="M681,140 L681,156" stroke="#1e1e1e" stroke-width="1.3"/>
<path d="M740.4,6.0 C740.5,12.6 741.1,37.1 741.2,50.0 C741.4,62.9 741.7,82.4 741.4,92.0 C741.1,101.6 740.4,108.0 739.5,114.0 C738.6,120.0 737.2,127.2 735.5,132.0 C733.8,136.8 730.9,141.1 728.0,146.0 C725.1,150.9 720.0,159.5 716.5,164.4 C713.0,169.3 707.3,174.4 704.4,178.6 C701.5,182.8 698.8,188.2 697.4,192.7 C696.0,197.2 695.3,204.1 695.3,208.9 C695.3,213.7 695.7,220.2 697.4,225.0 C699.1,229.8 703.2,237.0 706.4,241.2 C709.6,245.4 715.0,250.6 718.6,253.3 C722.2,256.0 727.7,258.3 730.7,259.3 C733.7,260.3 736.7,259.7 738.8,259.7 C740.9,259.7 742.1,259.7 744.8,259.3 C747.5,258.9 752.7,258.8 756.9,257.3 C761.1,255.8 768.6,252.8 773.1,249.2 C777.6,245.6 783.9,238.5 787.2,233.1 C790.5,227.7 793.5,218.4 795.3,212.9 C797.1,207.4 798.7,202.2 799.3,196.7 C799.9,191.2 799.9,181.9 799.3,176.5 C798.7,171.1 796.2,165.8 795.3,160.4 C794.4,155.0 793.8,146.3 793.3,140.2 C792.8,134.1 792.6,126.7 792.3,120.0 C792.0,113.3 791.4,112.7 791.1,95.6 C790.8,78.5 790.7,19.4 790.6,6.0 Z" fill="#ececec" stroke="none"/>
<path d="M722.6,40.8 A59.5,59.5 0 1 0 754.9,40.8" fill="none" stroke="#333" stroke-width="1.5"/>
<path d="M724,43.3 A57,57 0 1 0 753.5,43.3" fill="none" stroke="#555" stroke-width="1.1"/>
<path d="M725,45.5 A55,55 0 1 0 752.5,45.5" fill="none" stroke="#777" stroke-width="0.9"/>
<circle cx="739.2" cy="222.4" r="15" fill="#f2f2f2" stroke="#1e1e1e" stroke-width="1.6"/>
<circle cx="739.2" cy="222.4" r="12.8" fill="none" stroke="#1e1e1e" stroke-width="0.9"/>
<rect x="-8" y="-5" width="16" height="10" transform="translate(748.5,239) rotate(-25)" fill="#f2f2f2" stroke="#1e1e1e" stroke-width="1.3"/>
<path d="M727,205 L745,200" fill="none" stroke="#1e1e1e" stroke-width="1.2"/>
<rect x="778.7" y="159" width="19" height="32" rx="2" fill="none" stroke="#1e1e1e" stroke-width="1.3"/>
<rect x="782" y="163" width="12" height="24" fill="none" stroke="#1e1e1e" stroke-width="1"/>
<path d="M787,175 L795,175 M787,170 L787,180" fill="none" stroke="#1e1e1e" stroke-width="1.4"/>
<rect x="689" y="165" width="23" height="11" rx="5" fill="none" stroke="#1e1e1e" stroke-width="1.3"/>
<path d="M693,167 L693,174 M696,167 L696,174 M699,167 L699,174 M702,167 L702,174 M705,167 L705,174" fill="none" stroke="#1e1e1e" stroke-width="1.3"/>
<path d="M681,186 L718,186 Q724,180 730,184" fill="none" stroke="#1e1e1e" stroke-width="1.1"/>
<circle cx="685.4" cy="157.8" r="4.3" fill="#f4f4f4" stroke="#1e1e1e" stroke-width="1.3"/><circle cx="685.4" cy="157.8" r="1.94" fill="none" stroke="#1e1e1e" stroke-width="1.2"/>
<circle cx="685.4" cy="179.3" r="4.3" fill="#f4f4f4" stroke="#1e1e1e" stroke-width="1.3"/><circle cx="685.4" cy="179.3" r="1.94" fill="none" stroke="#1e1e1e" stroke-width="1.2"/>
<circle cx="728.5" cy="169.8" r="4.3" fill="#f4f4f4" stroke="#1e1e1e" stroke-width="1.3"/><circle cx="728.5" cy="169.8" r="1.94" fill="none" stroke="#1e1e1e" stroke-width="1.2"/>
<circle cx="772.7" cy="159.0" r="4.3" fill="#f4f4f4" stroke="#1e1e1e" stroke-width="1.3"/><circle cx="772.7" cy="159.0" r="1.94" fill="none" stroke="#1e1e1e" stroke-width="1.2"/>
<circle cx="805.0" cy="152.0" r="4.3" fill="#f4f4f4" stroke="#1e1e1e" stroke-width="1.3"/><circle cx="805.0" cy="152.0" r="1.94" fill="none" stroke="#1e1e1e" stroke-width="1.2"/>
<circle cx="805.0" cy="190.1" r="4.3" fill="#f4f4f4" stroke="#1e1e1e" stroke-width="1.3"/><circle cx="805.0" cy="190.1" r="1.94" fill="none" stroke="#1e1e1e" stroke-width="1.2"/>
<circle cx="771.5" cy="188.9" r="4.3" fill="#f4f4f4" stroke="#1e1e1e" stroke-width="1.3"/><circle cx="771.5" cy="188.9" r="1.94" fill="none" stroke="#1e1e1e" stroke-width="1.2"/>
<circle cx="720.1" cy="210.4" r="4.3" fill="#f4f4f4" stroke="#1e1e1e" stroke-width="1.3"/><circle cx="720.1" cy="210.4" r="1.94" fill="none" stroke="#1e1e1e" stroke-width="1.2"/>
<circle cx="736.8" cy="199.7" r="4.3" fill="#f4f4f4" stroke="#1e1e1e" stroke-width="1.3"/><circle cx="736.8" cy="199.7" r="1.94" fill="none" stroke="#1e1e1e" stroke-width="1.2"/>
<circle cx="757.2" cy="210.4" r="4.3" fill="#f4f4f4" stroke="#1e1e1e" stroke-width="1.3"/><circle cx="757.2" cy="210.4" r="1.94" fill="none" stroke="#1e1e1e" stroke-width="1.2"/>
<circle cx="757.2" cy="231.5" r="4.3" fill="#f4f4f4" stroke="#1e1e1e" stroke-width="1.3"/><circle cx="757.2" cy="231.5" r="1.94" fill="none" stroke="#1e1e1e" stroke-width="1.2"/>
<circle cx="779.9" cy="226.0" r="4.3" fill="#f4f4f4" stroke="#1e1e1e" stroke-width="1.3"/><circle cx="779.9" cy="226.0" r="1.94" fill="none" stroke="#1e1e1e" stroke-width="1.2"/>
<circle cx="805.0" cy="166.0" r="4.3" fill="#f4f4f4" stroke="#1e1e1e" stroke-width="1.3"/><circle cx="805.0" cy="166.0" r="1.94" fill="none" stroke="#1e1e1e" stroke-width="1.2"/>
<circle cx="697.4" cy="198.5" r="6.5" fill="#f0f0f0" stroke="#1e1e1e" stroke-width="1.5"/><circle cx="697.4" cy="198.5" r="4.03" fill="none" stroke="#1e1e1e" stroke-width="1.3"/><circle cx="697.4" cy="198.5" r="1.62" fill="none" stroke="#1e1e1e" stroke-width="1.3"/>
<circle cx="778.7" cy="243.9" r="6.5" fill="#f0f0f0" stroke="#1e1e1e" stroke-width="1.5"/><circle cx="778.7" cy="243.9" r="4.03" fill="none" stroke="#1e1e1e" stroke-width="1.3"/><circle cx="778.7" cy="243.9" r="1.62" fill="none" stroke="#1e1e1e" stroke-width="1.3"/>
<circle cx="711.7" cy="230.8" r="2.4" fill="#555" stroke="#222" stroke-width="0.8"/>
<circle cx="718.9" cy="241.5" r="2.4" fill="#555" stroke="#222" stroke-width="0.8"/>
<circle cx="730.9" cy="248.7" r="2.4" fill="#555" stroke="#222" stroke-width="0.8"/>
<path d="M699.8,393.9 C699.8,387.6 699.8,361.8 699.8,351.6 C699.8,341.4 700.2,331.8 699.8,326.2 C699.4,320.6 698.6,317.0 697.2,314.3 C695.8,311.6 692.9,309.7 690.5,308.4 C688.1,307.1 682.5,307.3 681.2,305.9 C679.9,304.5 680.1,302.8 682.0,299.0 C683.9,295.2 689.6,285.1 693.9,280.5 C698.2,275.9 705.2,271.3 710.8,268.6 C716.4,265.9 725.5,263.8 731.0,262.7 C736.5,261.6 742.5,261.5 747.6,261.5 C752.7,261.5 760.4,262.1 765.0,262.4 C769.6,262.7 775.2,262.6 778.5,263.5 C781.8,264.4 785.4,265.5 787.0,268.6 C788.6,271.7 789.5,278.6 789.5,283.9 C789.5,289.2 788.6,297.9 787.0,304.2 C785.4,310.5 781.0,319.1 778.5,326.2 C776.0,333.3 771.9,341.7 770.0,351.6 C768.1,361.5 766.4,386.1 765.8,392.2 Z" fill="#ececec" stroke="none"/>
<path d="M683.7,309 Q676,318 684,328 L699,332" fill="#ececec" stroke="#1e1e1e" stroke-width="1.2"/>
<rect x="723.7" y="331.0" width="29.2" height="17.2" fill="#ececec" stroke="#555" stroke-width="1.5"/><line x1="723.7" y1="333.3" x2="752.9" y2="333.3" stroke="#555" stroke-width="1.2"/><rect x="709.1" y="328.7" width="14.6" height="22.9" rx="1.5" fill="#ececec" stroke="#555" stroke-width="1.5"/><rect x="752.9" y="328.7" width="14.6" height="22.9" rx="1.5" fill="#ececec" stroke="#555" stroke-width="1.5"/><line x1="709.1" y1="334.9" x2="723.7" y2="334.9" stroke="#555" stroke-width="1.2"/><line x1="752.9" y1="334.9" x2="767.5" y2="334.9" stroke="#555" stroke-width="1.2"/>
<circle cx="738.7" cy="296.5" r="16" fill="#ececec" stroke="#1e1e1e" stroke-width="1.5"/><circle cx="738.7" cy="296.5" r="12.8" fill="none" stroke="#1e1e1e" stroke-width="1.1"/><circle cx="738.7" cy="296.5" r="9.9" fill="none" stroke="#1e1e1e" stroke-width="1.1"/><circle cx="738.7" cy="296.5" r="7.2" fill="none" stroke="#1e1e1e" stroke-width="1.1"/><circle cx="738.7" cy="296.5" r="4.5" fill="none" stroke="#1e1e1e" stroke-width="1.1"/>
<circle cx="757.3" cy="286.4" r="4.3" fill="#f4f4f4" stroke="#1e1e1e" stroke-width="1.3"/><circle cx="757.3" cy="286.4" r="1.94" fill="none" stroke="#1e1e1e" stroke-width="1.2"/>
<circle cx="720.1" cy="307.6" r="4.3" fill="#f4f4f4" stroke="#1e1e1e" stroke-width="1.3"/><circle cx="720.1" cy="307.6" r="1.94" fill="none" stroke="#1e1e1e" stroke-width="1.2"/>
<circle cx="757.3" cy="307.6" r="4.3" fill="#f4f4f4" stroke="#1e1e1e" stroke-width="1.3"/><circle cx="757.3" cy="307.6" r="1.94" fill="none" stroke="#1e1e1e" stroke-width="1.2"/>
<circle cx="738.7" cy="318.6" r="4.3" fill="#f4f4f4" stroke="#1e1e1e" stroke-width="1.3"/><circle cx="738.7" cy="318.6" r="1.94" fill="none" stroke="#1e1e1e" stroke-width="1.2"/>
<circle cx="758.2" cy="322.8" r="4.3" fill="#f4f4f4" stroke="#1e1e1e" stroke-width="1.3"/><circle cx="758.2" cy="322.8" r="1.94" fill="none" stroke="#1e1e1e" stroke-width="1.2"/>
<circle cx="779.4" cy="273.7" r="6.5" fill="#f0f0f0" stroke="#1e1e1e" stroke-width="1.5"/><circle cx="779.4" cy="273.7" r="4.03" fill="none" stroke="#1e1e1e" stroke-width="1.3"/><circle cx="779.4" cy="273.7" r="1.62" fill="none" stroke="#1e1e1e" stroke-width="1.3"/>
<circle cx="697.2" cy="321.1" r="6.5" fill="#f0f0f0" stroke="#1e1e1e" stroke-width="1.5"/><circle cx="697.2" cy="321.1" r="4.03" fill="none" stroke="#1e1e1e" stroke-width="1.3"/><circle cx="697.2" cy="321.1" r="1.62" fill="none" stroke="#1e1e1e" stroke-width="1.3"/>
<circle cx="721.8" cy="273.7" r="2.6" fill="#555" stroke="#222" stroke-width="0.8"/>
<circle cx="712.5" cy="284.7" r="2.6" fill="#555" stroke="#222" stroke-width="0.8"/>
<circle cx="734.5" cy="268.6" r="2.6" fill="#555" stroke="#222" stroke-width="0.8"/>
<path d="M698.8,289.6 Q695.2,284.4 701.2,286.4" fill="#fff" stroke="#1e1e1e" stroke-width="0.9"/><path d="M702.6,284.4 Q699.8,278.8 705.4,281.6" fill="#fff" stroke="#1e1e1e" stroke-width="0.9"/><path d="M706.4,280.2 Q704.4,274.2 709.6,277.8" fill="#fff" stroke="#1e1e1e" stroke-width="0.9"/>
<path d="M785,290 L772,318 L762,326" fill="none" stroke="#1e1e1e" stroke-width="1.1"/>
<path d="M740.4,6.0 C740.5,12.6 741.1,37.1 741.2,50.0 C741.4,62.9 741.7,82.4 741.4,92.0 C741.1,101.6 740.4,108.0 739.5,114.0 C738.6,120.0 737.2,127.2 735.5,132.0 C733.8,136.8 730.9,141.1 728.0,146.0 C725.1,150.9 720.0,159.5 716.5,164.4 C713.0,169.3 707.3,174.4 704.4,178.6 C701.5,182.8 698.8,188.2 697.4,192.7 C696.0,197.2 695.3,204.1 695.3,208.9 C695.3,213.7 695.7,220.2 697.4,225.0 C699.1,229.8 703.2,237.0 706.4,241.2 C709.6,245.4 715.0,250.6 718.6,253.3 C722.2,256.0 727.7,258.3 730.7,259.3 C733.7,260.3 737.6,259.6 738.8,259.7" fill="none" stroke="#000" stroke-width="3.2" stroke-linecap="round"/>
<path d="M744.8,259.3 C746.6,259.0 752.7,258.8 756.9,257.3 C761.1,255.8 768.6,252.8 773.1,249.2 C777.6,245.6 783.9,238.5 787.2,233.1 C790.5,227.7 793.5,218.4 795.3,212.9 C797.1,207.4 798.7,202.2 799.3,196.7 C799.9,191.2 799.9,181.9 799.3,176.5 C798.7,171.1 796.2,165.8 795.3,160.4 C794.4,155.0 793.8,146.3 793.3,140.2 C792.8,134.1 792.6,126.7 792.3,120.0 C792.0,113.3 791.4,112.7 791.1,95.6 C790.8,78.5 790.7,19.4 790.6,6.0" fill="none" stroke="#000" stroke-width="3.2" stroke-linecap="round"/>
<path d="M699.8,393.9 C699.8,387.6 699.8,361.8 699.8,351.6 C699.8,341.4 700.2,331.8 699.8,326.2 C699.4,320.6 698.6,317.0 697.2,314.3 C695.8,311.6 692.9,309.7 690.5,308.4 C688.1,307.1 682.5,307.3 681.2,305.9 C679.9,304.5 680.1,302.8 682.0,299.0 C683.9,295.2 689.6,285.1 693.9,280.5 C698.2,275.9 705.2,271.3 710.8,268.6 C716.4,265.9 725.5,263.8 731.0,262.7 C736.5,261.6 742.5,261.5 747.6,261.5 C752.7,261.5 760.4,262.1 765.0,262.4 C769.6,262.7 775.2,262.6 778.5,263.5 C781.8,264.4 785.4,265.5 787.0,268.6 C788.6,271.7 789.5,278.6 789.5,283.9 C789.5,289.2 788.6,297.9 787.0,304.2 C785.4,310.5 781.0,319.1 778.5,326.2 C776.0,333.3 771.9,341.7 770.0,351.6 C768.1,361.5 766.4,386.1 765.8,392.2" fill="none" stroke="#000" stroke-width="3.2" stroke-linecap="round"/>
<circle cx="738.8" cy="259.7" r="7.3" fill="#c8101c" stroke="#6a1a3a" stroke-width="0.8"/>
<path d="M42.9,482.3 L82.7,482.3 L82.7,664 Q82.7,678 70,679 L56,679 Q42.9,678 42.9,664 Z" fill="url(#cyl)"/>
<path d="M44,662 Q44,676 56,678 L70,678 Q81,676 81.5,662 L81.5,670 Q80,680 70,681 L56,681 Q45,680 44,670 Z" fill="#5a0808" opacity="0.9"/>
<rect x="60.6" y="551" width="5.4" height="32" fill="#e6e6e6"/>
<rect x="60.6" y="616" width="5.4" height="18" fill="#e6e6e6"/>
<rect x="39.1" y="516.4" width="47.8" height="35.3" rx="2" fill="url(#band)"/>
<rect x="39.1" y="581.9" width="47.8" height="35.1" rx="2" fill="url(#band)"/>
<g transform="translate(65.5,683.3) rotate(-8.59)">
<rect x="-17" y="0" width="34" height="181" fill="url(#cyl)"/>
<rect x="0" y="0" width="4.5" height="99" fill="#e6e6e6"/>
<rect x="-18.8" y="40.7" width="37.6" height="21.5" rx="1.5" fill="url(#band)"/>
<rect x="-18.8" y="98.2" width="37.6" height="23.1" rx="1.5" fill="url(#band)"/>
</g>
<circle cx="63" cy="644.5" r="14.4" fill="#d0d0d0"/>
<circle cx="64.3" cy="673.6" r="14.1" fill="#d0d0d0"/>
<path d="M102.6,482.3 L141.9,482.3 L141.9,682 L122,686 Q102.6,685 102.6,666 Z" fill="url(#cyl)"/>
<path d="M103,668 Q104,684 122,686.5 L128,686 L124,676 Q110,676 104,668 Z" fill="#7a0a0a"/>
<rect x="119.9" y="558" width="5.1" height="34" fill="#e6e6e6"/>
<rect x="119.9" y="625" width="5.1" height="20" fill="#e6e6e6"/>
<rect x="98.7" y="523.4" width="47.6" height="35.4" rx="2" fill="url(#band)"/>
<rect x="98.7" y="591" width="47.6" height="35.4" rx="2" fill="url(#band)"/>
<g transform="translate(142,683.3) rotate(5.36)">
<rect x="0" y="-17.8" width="185.2" height="35.6" fill="url(#cylv)"/>
<rect x="0" y="-1.5" width="104" height="3.6" fill="#e6e6e6"/>
<rect x="44" y="-19.5" width="23" height="39" rx="1.5" fill="url(#bandv)" transform="rotate(0)"/>
<rect x="104" y="-19.5" width="25" height="39" rx="1.5" fill="url(#bandv)"/>
</g>
<circle cx="122" cy="655.5" r="14.1" fill="#d0d0d0"/>
<circle cx="136.9" cy="681.4" r="14.3" fill="#d0d0d0"/>
<text x="88.9" y="224.4" font-size="17.5" text-anchor="start" fill="#111" font-weight="bold" font-family="'Liberation Sans', sans-serif" textLength="53.3" lengthAdjust="spacingAndGlyphs" >Femur</text>
<text x="14.5" y="340.4" font-size="17.5" text-anchor="start" fill="#111" font-weight="bold" font-family="'Liberation Sans', sans-serif" textLength="155.2" lengthAdjust="spacingAndGlyphs" >Center of Rotation</text>
<text x="287.3" y="372" font-size="17.5" text-anchor="start" fill="#111" font-weight="bold" font-family="'Liberation Sans', sans-serif" textLength="40.1" lengthAdjust="spacingAndGlyphs" >Tibia</text>
<text x="368.5" y="378.3" font-size="17.5" text-anchor="start" fill="#111" font-weight="bold" font-family="'Liberation Sans', sans-serif" textLength="206.5" lengthAdjust="spacingAndGlyphs" >Rolling Joint Mechanism</text>
<text x="711.3" y="380.2" font-size="17.5" text-anchor="start" fill="#111" font-weight="bold" font-family="'Liberation Sans', sans-serif" textLength="39.9" lengthAdjust="spacingAndGlyphs" >Tibia</text>
<text x="0" y="0" font-size="17.5" text-anchor="start" fill="#111" font-weight="bold" font-family="'Liberation Sans', sans-serif" textLength="52.7" lengthAdjust="spacingAndGlyphs" transform="translate(767,69.3) rotate(90)">Femur</text>
<text x="172" y="830" font-size="24.5" text-anchor="start" fill="#111" font-weight="bold" font-family="'Liberation Sans', sans-serif" textLength="84.9" lengthAdjust="spacingAndGlyphs" >Flexion</text>
</svg></body></html>
